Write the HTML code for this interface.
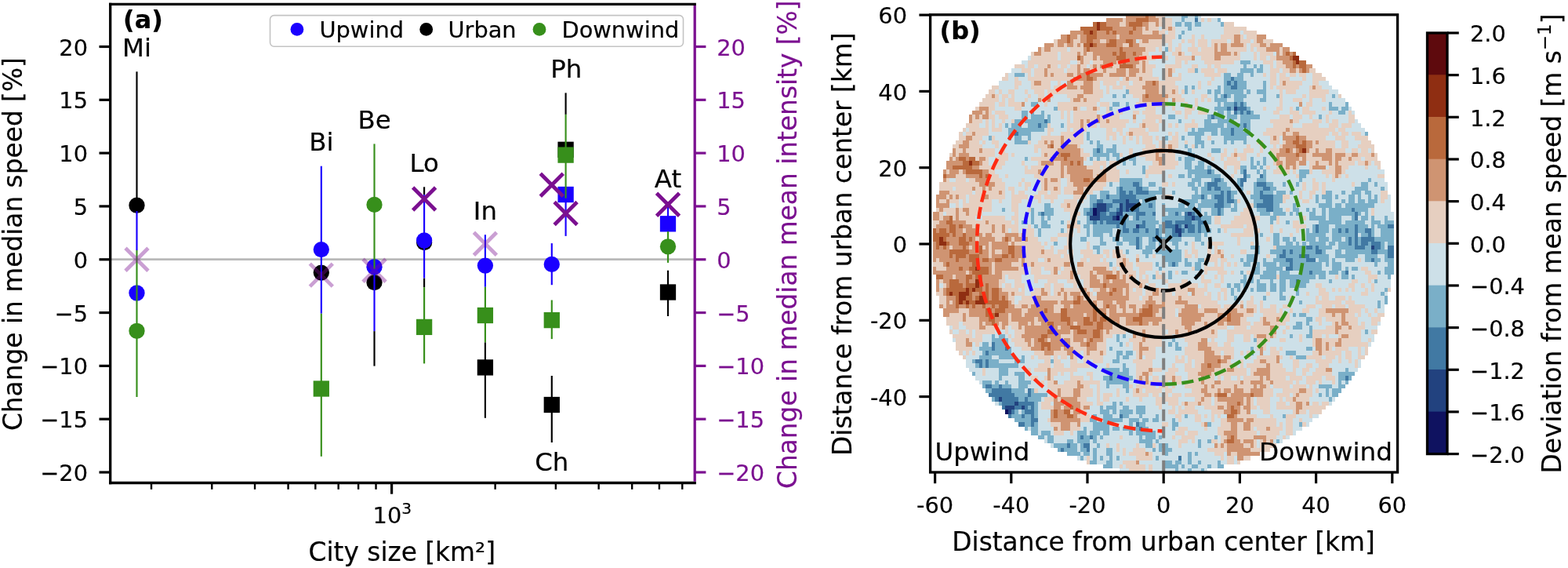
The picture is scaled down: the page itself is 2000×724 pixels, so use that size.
<!DOCTYPE html>
<html lang="en">
<head>
<meta charset="utf-8">
<title>Urban wind figure</title>
<style>
html,body{margin:0;padding:0;background:#fff;}
body{width:2000px;height:724px;overflow:hidden;}
svg{display:block;font-family:"DejaVu Sans", "Liberation Sans", sans-serif;}
text{stroke:currentColor;stroke-width:0.2px;paint-order:stroke fill;}
</style>
</head>
<body>
<svg width="2000" height="724" viewBox="0 0 2000 724">
<rect width="2000" height="724" fill="#fff"/>
<g id="panel-a">
<line x1="140.70" y1="330.60" x2="886.20" y2="330.60" stroke="#b9b9b9" stroke-width="2.8"/>
<line x1="174.50" y1="91.30" x2="174.50" y2="262.00" stroke="#000000" stroke-width="2.15"/>
<line x1="477.50" y1="422.10" x2="477.50" y2="466.60" stroke="#000000" stroke-width="2.15"/>
<line x1="541.10" y1="238.30" x2="541.10" y2="248.10" stroke="#000000" stroke-width="2.15"/>
<line x1="541.10" y1="354.50" x2="541.10" y2="366.10" stroke="#000000" stroke-width="2.15"/>
<line x1="618.90" y1="436.30" x2="618.90" y2="532.80" stroke="#000000" stroke-width="2.15"/>
<line x1="703.80" y1="479.00" x2="703.80" y2="564.00" stroke="#000000" stroke-width="2.15"/>
<line x1="721.60" y1="118.40" x2="721.60" y2="145.90" stroke="#000000" stroke-width="2.15"/>
<line x1="852.00" y1="344.70" x2="852.00" y2="403.00" stroke="#000000" stroke-width="2.15"/>
<circle cx="174.50" cy="261.70" r="10.15" fill="#000000"/>
<circle cx="409.80" cy="347.60" r="10.15" fill="#000000"/>
<circle cx="477.50" cy="360.10" r="10.15" fill="#000000"/>
<circle cx="541.10" cy="309.00" r="10.15" fill="#000000"/>
<rect x="608.75" y="458.25" width="20.3" height="20.3" fill="#000000"/>
<rect x="693.65" y="505.85" width="20.3" height="20.3" fill="#000000"/>
<rect x="711.45" y="180.65" width="20.3" height="20.3" fill="#000000"/>
<rect x="841.85" y="362.35" width="20.3" height="20.3" fill="#000000"/>
<line x1="174.50" y1="269.00" x2="174.50" y2="319.00" stroke="#1a00ff" stroke-width="2.15"/>
<line x1="409.80" y1="211.70" x2="409.80" y2="399.70" stroke="#1a00ff" stroke-width="2.15"/>
<line x1="477.50" y1="342.80" x2="477.50" y2="422.10" stroke="#1a00ff" stroke-width="2.15"/>
<line x1="541.10" y1="248.10" x2="541.10" y2="354.50" stroke="#1a00ff" stroke-width="2.15"/>
<line x1="618.90" y1="299.20" x2="618.90" y2="365.80" stroke="#1a00ff" stroke-width="2.15"/>
<line x1="703.80" y1="310.10" x2="703.80" y2="363.20" stroke="#1a00ff" stroke-width="2.15"/>
<line x1="721.60" y1="252.70" x2="721.60" y2="300.90" stroke="#1a00ff" stroke-width="2.15"/>
<line x1="852.00" y1="262.00" x2="852.00" y2="285.00" stroke="#1a00ff" stroke-width="2.15"/>
<circle cx="174.50" cy="373.50" r="10.15" fill="#1a00ff"/>
<circle cx="409.80" cy="318.10" r="10.15" fill="#1a00ff"/>
<circle cx="477.50" cy="340.20" r="10.15" fill="#1a00ff"/>
<circle cx="541.10" cy="306.50" r="10.15" fill="#1a00ff"/>
<circle cx="618.90" cy="338.60" r="10.15" fill="#1a00ff"/>
<circle cx="703.80" cy="336.90" r="10.15" fill="#1a00ff"/>
<rect x="711.45" y="237.85" width="20.3" height="20.3" fill="#1a00ff"/>
<rect x="841.85" y="275.15" width="20.3" height="20.3" fill="#1a00ff"/>
<line x1="174.50" y1="319.00" x2="174.50" y2="506.00" stroke="#378f1b" stroke-width="2.15"/>
<line x1="409.80" y1="399.70" x2="409.80" y2="581.80" stroke="#378f1b" stroke-width="2.15"/>
<line x1="477.50" y1="183.40" x2="477.50" y2="342.80" stroke="#378f1b" stroke-width="2.15"/>
<line x1="541.10" y1="366.10" x2="541.10" y2="463.40" stroke="#378f1b" stroke-width="2.15"/>
<line x1="618.90" y1="365.80" x2="618.90" y2="436.30" stroke="#378f1b" stroke-width="2.15"/>
<line x1="703.80" y1="382.50" x2="703.80" y2="432.10" stroke="#378f1b" stroke-width="2.15"/>
<line x1="721.60" y1="145.90" x2="721.60" y2="252.70" stroke="#378f1b" stroke-width="2.15"/>
<line x1="852.00" y1="295.00" x2="852.00" y2="334.90" stroke="#378f1b" stroke-width="2.15"/>
<circle cx="174.50" cy="421.80" r="10.15" fill="#378f1b"/>
<rect x="399.65" y="485.35" width="20.3" height="20.3" fill="#378f1b"/>
<circle cx="477.50" cy="260.90" r="10.15" fill="#378f1b"/>
<rect x="530.95" y="406.75" width="20.3" height="20.3" fill="#378f1b"/>
<rect x="608.75" y="391.85" width="20.3" height="20.3" fill="#378f1b"/>
<rect x="693.65" y="397.95" width="20.3" height="20.3" fill="#378f1b"/>
<rect x="711.45" y="187.45" width="20.3" height="20.3" fill="#378f1b"/>
<circle cx="852.00" cy="314.30" r="10.15" fill="#378f1b"/>
<path d="M160.00 316.30L189.00 345.30M160.00 345.30L189.00 316.30" stroke="#7b1090" stroke-width="4.8" fill="none" opacity="0.4"/>
<path d="M395.30 336.10L424.30 365.10M395.30 365.10L424.30 336.10" stroke="#7b1090" stroke-width="4.8" fill="none" opacity="0.4"/>
<path d="M463.00 330.20L492.00 359.20M463.00 359.20L492.00 330.20" stroke="#7b1090" stroke-width="4.8" fill="none" opacity="0.4"/>
<path d="M526.60 239.00L555.60 268.00M526.60 268.00L555.60 239.00" stroke="#7b1090" stroke-width="4.8" fill="none"/>
<path d="M604.40 296.30L633.40 325.30M604.40 325.30L633.40 296.30" stroke="#7b1090" stroke-width="4.8" fill="none" opacity="0.4"/>
<path d="M689.30 221.30L718.30 250.30M689.30 250.30L718.30 221.30" stroke="#7b1090" stroke-width="4.8" fill="none"/>
<path d="M707.10 257.50L736.10 286.50M707.10 286.50L736.10 257.50" stroke="#7b1090" stroke-width="4.8" fill="none"/>
<path d="M837.50 246.20L866.50 275.20M837.50 275.20L866.50 246.20" stroke="#7b1090" stroke-width="4.8" fill="none"/>
<text x="174.50" y="71.50" font-size="32.4" text-anchor="middle" fill="#000" color="#000">Mi</text>
<text x="409.80" y="192.00" font-size="32.4" text-anchor="middle" fill="#000" color="#000">Bi</text>
<text x="477.50" y="163.70" font-size="32.4" text-anchor="middle" fill="#000" color="#000">Be</text>
<text x="541.10" y="219.00" font-size="32.4" text-anchor="middle" fill="#000" color="#000">Lo</text>
<text x="618.90" y="279.50" font-size="32.4" text-anchor="middle" fill="#000" color="#000">In</text>
<text x="703.80" y="600.00" font-size="32.4" text-anchor="middle" fill="#000" color="#000">Ch</text>
<text x="722.20" y="99.00" font-size="32.4" text-anchor="middle" fill="#000" color="#000">Ph</text>
<text x="852.00" y="239.00" font-size="32.4" text-anchor="middle" fill="#000" color="#000">At</text>
<text x="157.00" y="35.50" font-size="32.0" text-anchor="start" fill="#000" color="#000" font-weight="bold">(a)</text>
<rect x="344.5" y="19.6" width="527" height="39.6" rx="5" ry="5" fill="#fff" fill-opacity="0.8" stroke="#c4c4c4" stroke-width="1.6"/>
<circle cx="378.90" cy="37.40" r="8.40" fill="#1a00ff"/>
<text x="407.50" y="48.30" font-size="28.8" text-anchor="start" fill="#000" color="#000">Upwind</text>
<circle cx="543.70" cy="37.40" r="8.40" fill="#000000"/>
<text x="571.50" y="48.30" font-size="28.8" text-anchor="start" fill="#000" color="#000">Urban</text>
<circle cx="688.00" cy="37.40" r="8.40" fill="#378f1b"/>
<text x="716.50" y="48.30" font-size="28.8" text-anchor="start" fill="#000" color="#000">Downwind</text>
<line x1="140.70" y1="3.75" x2="140.70" y2="617.15" stroke="#000" stroke-width="3.3"/>
<line x1="139.05" y1="5.40" x2="887.85" y2="5.40" stroke="#000" stroke-width="3.3"/>
<line x1="139.05" y1="615.50" x2="887.85" y2="615.50" stroke="#000" stroke-width="3.3"/>
<line x1="886.20" y1="7.05" x2="886.20" y2="613.85" stroke="#7b1090" stroke-width="3.3"/>
<line x1="126.50" y1="602.00" x2="140.70" y2="602.00" stroke="#000" stroke-width="3.2"/>
<text x="112.00" y="613.10" font-size="28.8" text-anchor="end" fill="#000" color="#000">−20</text>
<line x1="126.50" y1="534.19" x2="140.70" y2="534.19" stroke="#000" stroke-width="3.2"/>
<text x="112.00" y="545.29" font-size="28.8" text-anchor="end" fill="#000" color="#000">−15</text>
<line x1="126.50" y1="466.38" x2="140.70" y2="466.38" stroke="#000" stroke-width="3.2"/>
<text x="112.00" y="477.48" font-size="28.8" text-anchor="end" fill="#000" color="#000">−10</text>
<line x1="126.50" y1="398.56" x2="140.70" y2="398.56" stroke="#000" stroke-width="3.2"/>
<text x="112.00" y="409.66" font-size="28.8" text-anchor="end" fill="#000" color="#000">−5</text>
<line x1="126.50" y1="330.75" x2="140.70" y2="330.75" stroke="#000" stroke-width="3.2"/>
<text x="112.00" y="341.85" font-size="28.8" text-anchor="end" fill="#000" color="#000">0</text>
<line x1="126.50" y1="262.94" x2="140.70" y2="262.94" stroke="#000" stroke-width="3.2"/>
<text x="112.00" y="274.04" font-size="28.8" text-anchor="end" fill="#000" color="#000">5</text>
<line x1="126.50" y1="195.12" x2="140.70" y2="195.12" stroke="#000" stroke-width="3.2"/>
<text x="112.00" y="206.22" font-size="28.8" text-anchor="end" fill="#000" color="#000">10</text>
<line x1="126.50" y1="127.31" x2="140.70" y2="127.31" stroke="#000" stroke-width="3.2"/>
<text x="112.00" y="138.41" font-size="28.8" text-anchor="end" fill="#000" color="#000">15</text>
<line x1="126.50" y1="59.50" x2="140.70" y2="59.50" stroke="#000" stroke-width="3.2"/>
<text x="112.00" y="70.60" font-size="28.8" text-anchor="end" fill="#000" color="#000">20</text>
<line x1="886.20" y1="602.00" x2="900.40" y2="602.00" stroke="#7b1090" stroke-width="3.2"/>
<text x="914.20" y="613.00" font-size="28.8" text-anchor="start" fill="#7b1090" color="#7b1090">−20</text>
<line x1="886.20" y1="534.19" x2="900.40" y2="534.19" stroke="#7b1090" stroke-width="3.2"/>
<text x="914.20" y="545.19" font-size="28.8" text-anchor="start" fill="#7b1090" color="#7b1090">−15</text>
<line x1="886.20" y1="466.38" x2="900.40" y2="466.38" stroke="#7b1090" stroke-width="3.2"/>
<text x="914.20" y="477.38" font-size="28.8" text-anchor="start" fill="#7b1090" color="#7b1090">−10</text>
<line x1="886.20" y1="398.56" x2="900.40" y2="398.56" stroke="#7b1090" stroke-width="3.2"/>
<text x="914.20" y="409.56" font-size="28.8" text-anchor="start" fill="#7b1090" color="#7b1090">−5</text>
<line x1="886.20" y1="330.75" x2="900.40" y2="330.75" stroke="#7b1090" stroke-width="3.2"/>
<text x="914.20" y="341.75" font-size="28.8" text-anchor="start" fill="#7b1090" color="#7b1090">0</text>
<line x1="886.20" y1="262.94" x2="900.40" y2="262.94" stroke="#7b1090" stroke-width="3.2"/>
<text x="914.20" y="273.94" font-size="28.8" text-anchor="start" fill="#7b1090" color="#7b1090">5</text>
<line x1="886.20" y1="195.12" x2="900.40" y2="195.12" stroke="#7b1090" stroke-width="3.2"/>
<text x="914.20" y="206.12" font-size="28.8" text-anchor="start" fill="#7b1090" color="#7b1090">10</text>
<line x1="886.20" y1="127.31" x2="900.40" y2="127.31" stroke="#7b1090" stroke-width="3.2"/>
<text x="914.20" y="138.31" font-size="28.8" text-anchor="start" fill="#7b1090" color="#7b1090">15</text>
<line x1="886.20" y1="59.50" x2="900.40" y2="59.50" stroke="#7b1090" stroke-width="3.2"/>
<text x="914.20" y="70.50" font-size="28.8" text-anchor="start" fill="#7b1090" color="#7b1090">20</text>
<line x1="193.03" y1="615.50" x2="193.03" y2="623.80" stroke="#000" stroke-width="2.4"/>
<line x1="270.27" y1="615.50" x2="270.27" y2="623.80" stroke="#000" stroke-width="2.4"/>
<line x1="325.06" y1="615.50" x2="325.06" y2="623.80" stroke="#000" stroke-width="2.4"/>
<line x1="367.57" y1="615.50" x2="367.57" y2="623.80" stroke="#000" stroke-width="2.4"/>
<line x1="402.30" y1="615.50" x2="402.30" y2="623.80" stroke="#000" stroke-width="2.4"/>
<line x1="431.66" y1="615.50" x2="431.66" y2="623.80" stroke="#000" stroke-width="2.4"/>
<line x1="457.10" y1="615.50" x2="457.10" y2="623.80" stroke="#000" stroke-width="2.4"/>
<line x1="479.53" y1="615.50" x2="479.53" y2="623.80" stroke="#000" stroke-width="2.4"/>
<line x1="631.63" y1="615.50" x2="631.63" y2="623.80" stroke="#000" stroke-width="2.4"/>
<line x1="708.87" y1="615.50" x2="708.87" y2="623.80" stroke="#000" stroke-width="2.4"/>
<line x1="763.66" y1="615.50" x2="763.66" y2="623.80" stroke="#000" stroke-width="2.4"/>
<line x1="806.17" y1="615.50" x2="806.17" y2="623.80" stroke="#000" stroke-width="2.4"/>
<line x1="840.90" y1="615.50" x2="840.90" y2="623.80" stroke="#000" stroke-width="2.4"/>
<line x1="870.26" y1="615.50" x2="870.26" y2="623.80" stroke="#000" stroke-width="2.4"/>
<line x1="499.60" y1="615.50" x2="499.60" y2="629.70" stroke="#000" stroke-width="3.2"/>
<text x="475.6" y="667.0" font-size="28.8" fill="#000">10<tspan dy="-11.7" font-size="20.16">3</tspan></text>
<text x="512.80" y="715.00" font-size="32.8" text-anchor="middle" fill="#000" color="#000">City size [km²]</text>
<text x="27.70" y="311.10" font-size="32.8" text-anchor="middle" fill="#000" color="#000" transform="rotate(-90 27.70 311.10)">Change in median speed [%]</text>
<text x="1016.30" y="311.70" font-size="32.8" text-anchor="middle" fill="#7b1090" color="#7b1090" transform="rotate(-90 1016.30 311.70)">Change in median mean intensity [%]</text>
</g>
<g id="panel-b">
<clipPath id="clipb"><rect x="1186.6" y="18.8" width="596.0" height="583.2"/></clipPath>
<g clip-path="url(#clipb)">
<g transform="translate(1181.79 12.16) scale(4.17 5.37)" shape-rendering="crispEdges" stroke="none">
<path fill="#0f1260" d="M51 47h1v1h-1zM51 48h1v1h-1zM58 49h1v1h-1zM24 95h1v1h-1z"/>
<path fill="#22427f" d="M94 23h1v1h-1zM61 45h1v1h-1zM52 46h3v1h-3zM59 46h1v1h-1zM61 46h3v1h-3zM52 47h3v1h-3zM59 47h1v1h-1zM61 47h1v1h-1zM52 48h1v1h-1zM58 48h2v1h-2zM80 48h1v1h-1zM50 49h3v1h-3zM57 49h1v1h-1zM81 49h1v1h-1zM64 51h1v1h-1zM76 51h1v1h-1zM79 51h1v1h-1zM76 52h2v1h-2zM77 53h1v1h-1zM136 56h1v1h-1zM22 92h1v1h-1zM27 93h1v1h-1zM24 94h3v1h-3zM29 94h1v1h-1zM25 95h1v1h-1z"/>
<path fill="#4179a3" d="M82 2h1v1h-1zM93 16h1v1h-1zM92 17h1v1h-1zM94 17h1v1h-1zM93 18h2v1h-2zM91 20h1v1h-1zM94 22h1v1h-1zM96 22h1v1h-1zM92 23h1v1h-1zM95 23h3v1h-3zM94 24h1v1h-1zM96 24h1v1h-1zM98 24h1v1h-1zM87 25h1v1h-1zM36 26h1v1h-1zM34 27h1v1h-1zM97 27h1v1h-1zM93 28h1v1h-1zM27 29h1v1h-1zM93 29h1v1h-1zM52 33h1v1h-1zM86 38h1v1h-1zM97 38h1v1h-1zM97 39h1v1h-1zM102 39h1v1h-1zM88 40h2v1h-2zM96 40h2v1h-2zM63 41h2v1h-2zM86 41h3v1h-3zM96 41h1v1h-1zM101 41h3v1h-3zM59 42h1v1h-1zM64 42h2v1h-2zM86 42h1v1h-1zM88 42h2v1h-2zM103 42h2v1h-2zM59 43h2v1h-2zM62 43h1v1h-1zM64 43h4v1h-4zM90 43h1v1h-1zM92 43h1v1h-1zM102 43h1v1h-1zM55 44h1v1h-1zM59 44h5v1h-5zM84 44h1v1h-1zM88 44h3v1h-3zM92 44h1v1h-1zM102 44h4v1h-4zM52 45h2v1h-2zM57 45h4v1h-4zM62 45h3v1h-3zM89 45h2v1h-2zM92 45h2v1h-2zM103 45h3v1h-3zM51 46h1v1h-1zM55 46h2v1h-2zM60 46h1v1h-1zM64 46h1v1h-1zM68 46h1v1h-1zM88 46h3v1h-3zM101 46h5v1h-5zM50 47h1v1h-1zM55 47h1v1h-1zM58 47h1v1h-1zM60 47h1v1h-1zM62 47h3v1h-3zM82 47h1v1h-1zM89 47h1v1h-1zM104 47h2v1h-2zM130 47h1v1h-1zM35 48h1v1h-1zM49 48h2v1h-2zM53 48h2v1h-2zM56 48h2v1h-2zM64 48h3v1h-3zM69 48h1v1h-1zM76 48h1v1h-1zM79 48h1v1h-1zM81 48h1v1h-1zM89 48h1v1h-1zM131 48h1v1h-1zM53 49h4v1h-4zM59 49h2v1h-2zM64 49h1v1h-1zM79 49h2v1h-2zM82 49h2v1h-2zM131 49h1v1h-1zM51 50h1v1h-1zM53 50h1v1h-1zM55 50h6v1h-6zM66 50h1v1h-1zM73 50h2v1h-2zM76 50h5v1h-5zM83 50h2v1h-2zM58 51h1v1h-1zM60 51h1v1h-1zM65 51h2v1h-2zM73 51h3v1h-3zM77 51h1v1h-1zM80 51h2v1h-2zM83 51h1v1h-1zM119 51h1v1h-1zM131 51h1v1h-1zM141 51h2v1h-2zM60 52h2v1h-2zM63 52h2v1h-2zM67 52h1v1h-1zM70 52h1v1h-1zM75 52h1v1h-1zM78 52h1v1h-1zM80 52h2v1h-2zM83 52h1v1h-1zM119 52h1v1h-1zM126 52h1v1h-1zM128 52h1v1h-1zM131 52h1v1h-1zM134 52h2v1h-2zM70 53h1v1h-1zM75 53h2v1h-2zM131 53h1v1h-1zM135 53h1v1h-1zM64 54h1v1h-1zM69 54h1v1h-1zM71 54h1v1h-1zM129 54h1v1h-1zM131 54h1v1h-1zM133 54h4v1h-4zM64 55h1v1h-1zM129 55h1v1h-1zM131 55h1v1h-1zM133 55h2v1h-2zM136 55h3v1h-3zM64 56h1v1h-1zM116 56h2v1h-2zM119 56h1v1h-1zM131 56h3v1h-3zM137 56h2v1h-2zM141 56h2v1h-2zM109 57h1v1h-1zM111 57h1v1h-1zM119 57h2v1h-2zM136 57h2v1h-2zM141 57h2v1h-2zM108 58h2v1h-2zM114 58h3v1h-3zM141 58h2v1h-2zM110 59h2v1h-2zM116 59h3v1h-3zM136 59h1v1h-1zM75 60h1v1h-1zM111 60h1v1h-1zM110 61h2v1h-2zM117 62h1v1h-1zM128 62h1v1h-1zM113 64h1v1h-1zM20 79h1v1h-1zM20 80h1v1h-1zM24 80h1v1h-1zM18 81h1v1h-1zM15 83h2v1h-2zM18 83h1v1h-1zM16 84h1v1h-1zM18 84h1v1h-1zM56 87h1v1h-1zM128 87h1v1h-1zM18 89h2v1h-2zM22 89h1v1h-1zM20 90h6v1h-6zM31 90h1v1h-1zM19 91h8v1h-8zM31 91h1v1h-1zM21 92h1v1h-1zM23 92h5v1h-5zM30 92h1v1h-1zM23 93h4v1h-4zM28 93h5v1h-5zM23 94h1v1h-1zM27 94h2v1h-2zM30 94h1v1h-1zM32 94h1v1h-1zM26 95h1v1h-1zM30 95h3v1h-3zM25 96h1v1h-1zM29 96h1v1h-1zM32 96h1v1h-1zM59 96h1v1h-1zM32 97h2v1h-2zM28 98h2v1h-2zM32 98h1v1h-1zM64 98h1v1h-1zM65 99h1v1h-1zM47 101h1v1h-1zM50 101h1v1h-1zM43 103h1v1h-1zM48 103h2v1h-2zM41 104h1v1h-1zM49 104h1v1h-1zM77 106h1v1h-1z"/>
<path fill="#7aafc8" d="M78 1h2v1h-2zM82 1h1v1h-1zM78 2h1v1h-1zM89 2h1v1h-1zM76 3h2v1h-2zM79 3h2v1h-2zM82 3h2v1h-2zM90 3h1v1h-1zM80 4h1v1h-1zM78 5h1v1h-1zM77 6h1v1h-1zM73 9h1v1h-1zM96 12h3v1h-3zM97 13h1v1h-1zM100 13h1v1h-1zM102 13h1v1h-1zM82 14h1v1h-1zM96 14h4v1h-4zM101 14h2v1h-2zM27 15h3v1h-3zM91 15h2v1h-2zM95 15h2v1h-2zM99 15h1v1h-1zM91 16h2v1h-2zM94 16h3v1h-3zM91 17h1v1h-1zM93 17h1v1h-1zM95 17h3v1h-3zM103 17h1v1h-1zM79 18h1v1h-1zM81 18h1v1h-1zM89 18h1v1h-1zM91 18h2v1h-2zM95 18h3v1h-3zM103 18h1v1h-1zM61 19h1v1h-1zM79 19h1v1h-1zM86 19h1v1h-1zM88 19h2v1h-2zM91 19h6v1h-6zM98 19h1v1h-1zM101 19h3v1h-3zM57 20h1v1h-1zM60 20h1v1h-1zM88 20h1v1h-1zM90 20h1v1h-1zM92 20h1v1h-1zM94 20h4v1h-4zM103 20h1v1h-1zM107 20h1v1h-1zM124 20h1v1h-1zM88 21h4v1h-4zM94 21h3v1h-3zM102 21h2v1h-2zM32 22h2v1h-2zM57 22h2v1h-2zM61 22h1v1h-1zM89 22h1v1h-1zM91 22h3v1h-3zM95 22h1v1h-1zM97 22h1v1h-1zM123 22h1v1h-1zM128 22h1v1h-1zM39 23h1v1h-1zM56 23h1v1h-1zM88 23h4v1h-4zM93 23h1v1h-1zM98 23h1v1h-1zM113 23h1v1h-1zM123 23h3v1h-3zM127 23h2v1h-2zM29 24h2v1h-2zM32 24h1v1h-1zM35 24h1v1h-1zM89 24h2v1h-2zM92 24h1v1h-1zM95 24h1v1h-1zM97 24h1v1h-1zM99 24h1v1h-1zM126 24h2v1h-2zM29 25h2v1h-2zM32 25h4v1h-4zM37 25h1v1h-1zM74 25h2v1h-2zM86 25h1v1h-1zM88 25h3v1h-3zM92 25h3v1h-3zM96 25h6v1h-6zM120 25h1v1h-1zM27 26h2v1h-2zM30 26h6v1h-6zM37 26h1v1h-1zM77 26h1v1h-1zM85 26h2v1h-2zM89 26h5v1h-5zM96 26h3v1h-3zM24 27h1v1h-1zM26 27h3v1h-3zM31 27h3v1h-3zM35 27h2v1h-2zM41 27h1v1h-1zM85 27h6v1h-6zM92 27h5v1h-5zM98 27h1v1h-1zM25 28h11v1h-11zM81 28h1v1h-1zM83 28h6v1h-6zM90 28h3v1h-3zM94 28h3v1h-3zM98 28h1v1h-1zM25 29h2v1h-2zM28 29h4v1h-4zM49 29h1v1h-1zM80 29h5v1h-5zM87 29h2v1h-2zM90 29h3v1h-3zM94 29h5v1h-5zM134 29h1v1h-1zM19 30h1v1h-1zM25 30h1v1h-1zM27 30h2v1h-2zM31 30h1v1h-1zM49 30h1v1h-1zM73 30h1v1h-1zM78 30h1v1h-1zM82 30h2v1h-2zM91 30h7v1h-7zM27 31h4v1h-4zM50 31h1v1h-1zM52 31h1v1h-1zM82 31h3v1h-3zM87 31h1v1h-1zM91 31h1v1h-1zM93 31h1v1h-1zM97 31h1v1h-1zM52 32h2v1h-2zM57 32h1v1h-1zM79 32h1v1h-1zM82 32h1v1h-1zM84 32h1v1h-1zM51 33h1v1h-1zM53 33h1v1h-1zM55 33h3v1h-3zM80 33h1v1h-1zM87 33h3v1h-3zM51 34h5v1h-5zM57 34h2v1h-2zM63 34h1v1h-1zM80 34h2v1h-2zM30 35h1v1h-1zM50 35h1v1h-1zM52 35h1v1h-1zM55 35h1v1h-1zM58 35h1v1h-1zM60 35h1v1h-1zM62 35h2v1h-2zM77 35h1v1h-1zM79 35h3v1h-3zM99 35h1v1h-1zM103 35h1v1h-1zM60 36h1v1h-1zM63 36h1v1h-1zM79 36h2v1h-2zM83 36h2v1h-2zM99 36h1v1h-1zM101 36h1v1h-1zM103 36h1v1h-1zM66 37h1v1h-1zM79 37h2v1h-2zM82 37h3v1h-3zM86 37h1v1h-1zM96 37h2v1h-2zM99 37h2v1h-2zM102 37h1v1h-1zM66 38h1v1h-1zM80 38h6v1h-6zM87 38h1v1h-1zM96 38h1v1h-1zM101 38h1v1h-1zM103 38h1v1h-1zM114 38h3v1h-3zM77 39h2v1h-2zM80 39h1v1h-1zM82 39h8v1h-8zM98 39h1v1h-1zM103 39h1v1h-1zM114 39h2v1h-2zM59 40h7v1h-7zM81 40h3v1h-3zM87 40h1v1h-1zM90 40h1v1h-1zM95 40h1v1h-1zM101 40h3v1h-3zM114 40h1v1h-1zM135 40h1v1h-1zM56 41h1v1h-1zM59 41h4v1h-4zM65 41h1v1h-1zM68 41h2v1h-2zM80 41h2v1h-2zM83 41h1v1h-1zM85 41h1v1h-1zM89 41h3v1h-3zM95 41h1v1h-1zM100 41h1v1h-1zM104 41h2v1h-2zM109 41h1v1h-1zM113 41h1v1h-1zM133 41h2v1h-2zM137 41h1v1h-1zM58 42h1v1h-1zM60 42h4v1h-4zM66 42h2v1h-2zM71 42h1v1h-1zM81 42h2v1h-2zM84 42h2v1h-2zM87 42h1v1h-1zM90 42h3v1h-3zM96 42h1v1h-1zM100 42h3v1h-3zM105 42h2v1h-2zM131 42h4v1h-4zM139 42h1v1h-1zM53 43h3v1h-3zM58 43h1v1h-1zM61 43h1v1h-1zM63 43h1v1h-1zM68 43h5v1h-5zM75 43h1v1h-1zM82 43h1v1h-1zM84 43h6v1h-6zM91 43h1v1h-1zM93 43h2v1h-2zM100 43h2v1h-2zM103 43h3v1h-3zM107 43h3v1h-3zM111 43h1v1h-1zM122 43h2v1h-2zM127 43h1v1h-1zM130 43h3v1h-3zM134 43h2v1h-2zM50 44h2v1h-2zM53 44h2v1h-2zM56 44h3v1h-3zM64 44h6v1h-6zM81 44h3v1h-3zM85 44h1v1h-1zM87 44h1v1h-1zM91 44h1v1h-1zM93 44h1v1h-1zM99 44h3v1h-3zM106 44h3v1h-3zM119 44h1v1h-1zM121 44h3v1h-3zM125 44h1v1h-1zM129 44h2v1h-2zM132 44h1v1h-1zM135 44h1v1h-1zM137 44h1v1h-1zM50 45h2v1h-2zM54 45h3v1h-3zM66 45h4v1h-4zM78 45h5v1h-5zM84 45h5v1h-5zM91 45h1v1h-1zM94 45h1v1h-1zM100 45h3v1h-3zM106 45h3v1h-3zM119 45h1v1h-1zM122 45h2v1h-2zM127 45h1v1h-1zM129 45h2v1h-2zM132 45h2v1h-2zM135 45h3v1h-3zM36 46h2v1h-2zM50 46h1v1h-1zM57 46h2v1h-2zM65 46h3v1h-3zM69 46h1v1h-1zM72 46h1v1h-1zM77 46h2v1h-2zM80 46h2v1h-2zM83 46h5v1h-5zM91 46h2v1h-2zM94 46h1v1h-1zM100 46h1v1h-1zM106 46h2v1h-2zM112 46h1v1h-1zM120 46h4v1h-4zM125 46h2v1h-2zM128 46h9v1h-9zM23 47h1v1h-1zM32 47h1v1h-1zM36 47h3v1h-3zM48 47h2v1h-2zM56 47h2v1h-2zM65 47h5v1h-5zM72 47h10v1h-10zM83 47h1v1h-1zM87 47h2v1h-2zM90 47h1v1h-1zM93 47h2v1h-2zM101 47h3v1h-3zM106 47h3v1h-3zM112 47h2v1h-2zM116 47h1v1h-1zM118 47h1v1h-1zM121 47h1v1h-1zM123 47h7v1h-7zM131 47h4v1h-4zM32 48h1v1h-1zM34 48h1v1h-1zM36 48h3v1h-3zM48 48h1v1h-1zM55 48h1v1h-1zM60 48h4v1h-4zM67 48h2v1h-2zM72 48h1v1h-1zM74 48h2v1h-2zM77 48h1v1h-1zM82 48h2v1h-2zM85 48h1v1h-1zM87 48h2v1h-2zM90 48h1v1h-1zM102 48h3v1h-3zM106 48h4v1h-4zM111 48h1v1h-1zM113 48h1v1h-1zM117 48h2v1h-2zM121 48h1v1h-1zM123 48h8v1h-8zM132 48h1v1h-1zM134 48h1v1h-1zM32 49h1v1h-1zM35 49h1v1h-1zM37 49h1v1h-1zM49 49h1v1h-1zM61 49h1v1h-1zM63 49h1v1h-1zM65 49h5v1h-5zM72 49h7v1h-7zM84 49h3v1h-3zM105 49h2v1h-2zM117 49h5v1h-5zM123 49h4v1h-4zM130 49h1v1h-1zM133 49h2v1h-2zM136 49h1v1h-1zM140 49h1v1h-1zM29 50h2v1h-2zM32 50h1v1h-1zM35 50h2v1h-2zM41 50h1v1h-1zM46 50h1v1h-1zM49 50h2v1h-2zM52 50h1v1h-1zM54 50h1v1h-1zM61 50h5v1h-5zM67 50h4v1h-4zM72 50h1v1h-1zM75 50h1v1h-1zM81 50h2v1h-2zM85 50h2v1h-2zM105 50h1v1h-1zM110 50h1v1h-1zM120 50h7v1h-7zM128 50h6v1h-6zM136 50h3v1h-3zM140 50h3v1h-3zM33 51h1v1h-1zM35 51h3v1h-3zM48 51h2v1h-2zM51 51h7v1h-7zM59 51h1v1h-1zM61 51h3v1h-3zM67 51h3v1h-3zM71 51h1v1h-1zM78 51h1v1h-1zM82 51h1v1h-1zM84 51h2v1h-2zM118 51h1v1h-1zM120 51h3v1h-3zM125 51h6v1h-6zM132 51h3v1h-3zM136 51h1v1h-1zM138 51h3v1h-3zM34 52h1v1h-1zM41 52h1v1h-1zM49 52h1v1h-1zM51 52h6v1h-6zM59 52h1v1h-1zM62 52h1v1h-1zM65 52h2v1h-2zM68 52h2v1h-2zM71 52h4v1h-4zM79 52h1v1h-1zM82 52h1v1h-1zM84 52h3v1h-3zM89 52h1v1h-1zM116 52h1v1h-1zM118 52h1v1h-1zM120 52h3v1h-3zM124 52h2v1h-2zM127 52h1v1h-1zM129 52h2v1h-2zM132 52h2v1h-2zM136 52h1v1h-1zM139 52h4v1h-4zM34 53h1v1h-1zM49 53h1v1h-1zM51 53h3v1h-3zM56 53h1v1h-1zM58 53h12v1h-12zM71 53h1v1h-1zM73 53h2v1h-2zM78 53h6v1h-6zM85 53h1v1h-1zM102 53h1v1h-1zM106 53h2v1h-2zM116 53h6v1h-6zM124 53h7v1h-7zM133 53h2v1h-2zM136 53h1v1h-1zM139 53h4v1h-4zM47 54h2v1h-2zM53 54h1v1h-1zM57 54h2v1h-2zM60 54h4v1h-4zM65 54h1v1h-1zM68 54h1v1h-1zM70 54h1v1h-1zM72 54h6v1h-6zM82 54h2v1h-2zM106 54h2v1h-2zM109 54h2v1h-2zM112 54h1v1h-1zM116 54h3v1h-3zM120 54h3v1h-3zM124 54h3v1h-3zM128 54h1v1h-1zM130 54h1v1h-1zM132 54h1v1h-1zM137 54h6v1h-6zM39 55h1v1h-1zM53 55h2v1h-2zM58 55h2v1h-2zM62 55h2v1h-2zM65 55h1v1h-1zM68 55h2v1h-2zM71 55h2v1h-2zM75 55h2v1h-2zM79 55h1v1h-1zM84 55h1v1h-1zM106 55h2v1h-2zM110 55h2v1h-2zM113 55h1v1h-1zM115 55h1v1h-1zM117 55h5v1h-5zM123 55h2v1h-2zM126 55h3v1h-3zM130 55h1v1h-1zM132 55h1v1h-1zM135 55h1v1h-1zM139 55h1v1h-1zM141 55h2v1h-2zM51 56h2v1h-2zM65 56h1v1h-1zM67 56h3v1h-3zM71 56h1v1h-1zM76 56h1v1h-1zM99 56h3v1h-3zM107 56h9v1h-9zM118 56h1v1h-1zM120 56h4v1h-4zM126 56h5v1h-5zM134 56h2v1h-2zM139 56h1v1h-1zM52 57h1v1h-1zM61 57h1v1h-1zM66 57h3v1h-3zM70 57h8v1h-8zM101 57h1v1h-1zM105 57h4v1h-4zM110 57h1v1h-1zM112 57h7v1h-7zM121 57h1v1h-1zM125 57h2v1h-2zM128 57h8v1h-8zM138 57h3v1h-3zM67 58h1v1h-1zM72 58h6v1h-6zM98 58h3v1h-3zM107 58h1v1h-1zM110 58h4v1h-4zM117 58h6v1h-6zM125 58h7v1h-7zM134 58h4v1h-4zM140 58h1v1h-1zM73 59h5v1h-5zM79 59h1v1h-1zM83 59h2v1h-2zM96 59h1v1h-1zM98 59h3v1h-3zM103 59h1v1h-1zM106 59h4v1h-4zM112 59h4v1h-4zM120 59h3v1h-3zM124 59h1v1h-1zM128 59h3v1h-3zM134 59h2v1h-2zM137 59h2v1h-2zM140 59h3v1h-3zM56 60h1v1h-1zM70 60h1v1h-1zM74 60h1v1h-1zM76 60h1v1h-1zM79 60h2v1h-2zM82 60h2v1h-2zM97 60h2v1h-2zM101 60h1v1h-1zM103 60h4v1h-4zM108 60h3v1h-3zM112 60h9v1h-9zM122 60h1v1h-1zM124 60h3v1h-3zM137 60h1v1h-1zM141 60h2v1h-2zM71 61h1v1h-1zM82 61h2v1h-2zM100 61h2v1h-2zM104 61h5v1h-5zM112 61h9v1h-9zM124 61h3v1h-3zM128 61h1v1h-1zM130 61h2v1h-2zM140 61h3v1h-3zM74 62h1v1h-1zM78 62h2v1h-2zM96 62h1v1h-1zM100 62h2v1h-2zM103 62h4v1h-4zM108 62h3v1h-3zM114 62h3v1h-3zM118 62h4v1h-4zM123 62h3v1h-3zM127 62h1v1h-1zM138 62h1v1h-1zM140 62h3v1h-3zM69 63h1v1h-1zM74 63h1v1h-1zM82 63h1v1h-1zM97 63h1v1h-1zM99 63h1v1h-1zM102 63h5v1h-5zM108 63h11v1h-11zM120 63h2v1h-2zM127 63h2v1h-2zM130 63h1v1h-1zM141 63h1v1h-1zM96 64h2v1h-2zM99 64h1v1h-1zM101 64h1v1h-1zM105 64h1v1h-1zM108 64h2v1h-2zM111 64h2v1h-2zM114 64h3v1h-3zM123 64h1v1h-1zM137 64h1v1h-1zM92 65h1v1h-1zM94 65h2v1h-2zM97 65h1v1h-1zM101 65h3v1h-3zM105 65h2v1h-2zM108 65h2v1h-2zM111 65h5v1h-5zM93 66h1v1h-1zM95 66h1v1h-1zM97 66h1v1h-1zM99 66h1v1h-1zM101 66h3v1h-3zM105 66h2v1h-2zM108 66h2v1h-2zM113 66h1v1h-1zM140 66h1v1h-1zM93 67h1v1h-1zM108 67h1v1h-1zM113 67h1v1h-1zM139 67h1v1h-1zM94 68h1v1h-1zM103 68h1v1h-1zM108 68h2v1h-2zM140 68h1v1h-1zM114 69h1v1h-1zM138 69h1v1h-1zM140 69h1v1h-1zM138 70h1v1h-1zM112 72h1v1h-1zM114 72h2v1h-2zM116 73h2v1h-2zM113 74h2v1h-2zM116 74h1v1h-1zM112 75h3v1h-3zM117 75h1v1h-1zM117 76h1v1h-1zM134 76h1v1h-1zM20 77h1v1h-1zM22 77h2v1h-2zM58 77h1v1h-1zM60 77h1v1h-1zM111 77h1v1h-1zM116 77h2v1h-2zM20 78h5v1h-5zM58 78h1v1h-1zM75 78h1v1h-1zM100 78h1v1h-1zM17 79h2v1h-2zM21 79h4v1h-4zM59 79h1v1h-1zM74 79h1v1h-1zM76 79h1v1h-1zM16 80h4v1h-4zM21 80h3v1h-3zM25 80h1v1h-1zM56 80h1v1h-1zM76 80h2v1h-2zM99 80h1v1h-1zM116 80h2v1h-2zM17 81h1v1h-1zM19 81h7v1h-7zM58 81h2v1h-2zM61 81h2v1h-2zM99 81h1v1h-1zM110 81h3v1h-3zM16 82h4v1h-4zM22 82h5v1h-5zM29 82h1v1h-1zM58 82h1v1h-1zM60 82h2v1h-2zM113 82h3v1h-3zM14 83h1v1h-1zM17 83h1v1h-1zM19 83h3v1h-3zM27 83h3v1h-3zM38 83h1v1h-1zM57 83h2v1h-2zM15 84h1v1h-1zM17 84h1v1h-1zM19 84h9v1h-9zM60 84h1v1h-1zM22 85h3v1h-3zM54 85h5v1h-5zM60 85h2v1h-2zM128 85h1v1h-1zM14 86h1v1h-1zM22 86h3v1h-3zM27 86h3v1h-3zM56 86h6v1h-6zM126 86h5v1h-5zM22 87h1v1h-1zM28 87h2v1h-2zM54 87h2v1h-2zM57 87h6v1h-6zM126 87h2v1h-2zM129 87h1v1h-1zM17 88h3v1h-3zM21 88h1v1h-1zM24 88h1v1h-1zM28 88h4v1h-4zM55 88h7v1h-7zM126 88h1v1h-1zM128 88h1v1h-1zM17 89h1v1h-1zM20 89h2v1h-2zM23 89h3v1h-3zM28 89h3v1h-3zM55 89h1v1h-1zM60 89h2v1h-2zM120 89h4v1h-4zM126 89h2v1h-2zM18 90h2v1h-2zM26 90h4v1h-4zM32 90h1v1h-1zM61 90h1v1h-1zM122 90h1v1h-1zM124 90h3v1h-3zM27 91h4v1h-4zM32 91h5v1h-5zM120 91h1v1h-1zM122 91h1v1h-1zM124 91h2v1h-2zM20 92h1v1h-1zM28 92h2v1h-2zM31 92h4v1h-4zM123 92h1v1h-1zM22 93h1v1h-1zM33 93h1v1h-1zM57 93h1v1h-1zM59 93h1v1h-1zM31 94h1v1h-1zM33 94h1v1h-1zM53 94h1v1h-1zM55 94h3v1h-3zM60 94h2v1h-2zM64 94h3v1h-3zM27 95h1v1h-1zM29 95h1v1h-1zM33 95h1v1h-1zM53 95h3v1h-3zM57 95h1v1h-1zM59 95h4v1h-4zM64 95h3v1h-3zM26 96h3v1h-3zM30 96h2v1h-2zM33 96h1v1h-1zM51 96h1v1h-1zM54 96h3v1h-3zM60 96h2v1h-2zM65 96h1v1h-1zM70 96h1v1h-1zM79 96h1v1h-1zM109 96h1v1h-1zM27 97h5v1h-5zM50 97h2v1h-2zM54 97h6v1h-6zM62 97h3v1h-3zM66 97h2v1h-2zM69 97h2v1h-2zM75 97h1v1h-1zM30 98h2v1h-2zM33 98h1v1h-1zM51 98h5v1h-5zM62 98h1v1h-1zM65 98h2v1h-2zM75 98h2v1h-2zM86 98h1v1h-1zM114 98h1v1h-1zM30 99h1v1h-1zM32 99h2v1h-2zM48 99h1v1h-1zM51 99h5v1h-5zM57 99h2v1h-2zM60 99h5v1h-5zM66 99h2v1h-2zM75 99h1v1h-1zM32 100h2v1h-2zM35 100h3v1h-3zM46 100h3v1h-3zM50 100h3v1h-3zM54 100h2v1h-2zM62 100h1v1h-1zM64 100h6v1h-6zM34 101h2v1h-2zM37 101h2v1h-2zM46 101h1v1h-1zM48 101h2v1h-2zM51 101h1v1h-1zM53 101h1v1h-1zM65 101h1v1h-1zM67 101h3v1h-3zM71 101h1v1h-1zM88 101h1v1h-1zM37 102h2v1h-2zM43 102h2v1h-2zM46 102h4v1h-4zM51 102h1v1h-1zM65 102h4v1h-4zM70 102h1v1h-1zM83 102h1v1h-1zM86 102h1v1h-1zM107 102h1v1h-1zM39 103h4v1h-4zM44 103h2v1h-2zM47 103h1v1h-1zM52 103h1v1h-1zM67 103h2v1h-2zM71 103h3v1h-3zM83 103h1v1h-1zM40 104h1v1h-1zM42 104h4v1h-4zM47 104h2v1h-2zM51 104h1v1h-1zM55 104h2v1h-2zM69 104h1v1h-1zM71 104h1v1h-1zM73 104h2v1h-2zM43 105h4v1h-4zM48 105h2v1h-2zM51 105h1v1h-1zM55 105h2v1h-2zM73 105h1v1h-1zM80 105h1v1h-1zM82 105h1v1h-1zM47 106h1v1h-1zM51 106h1v1h-1zM53 106h1v1h-1zM56 106h1v1h-1zM58 106h1v1h-1zM70 106h1v1h-1zM80 106h1v1h-1zM50 107h2v1h-2zM55 107h2v1h-2zM73 107h2v1h-2zM76 107h2v1h-2zM80 107h1v1h-1zM83 107h1v1h-1zM89 107h1v1h-1zM54 108h3v1h-3zM73 108h4v1h-4zM78 108h1v1h-1zM81 108h2v1h-2zM86 108h1v1h-1zM89 108h2v1h-2zM76 109h1v1h-1zM80 109h1v1h-1zM84 109h1v1h-1zM73 110h1v1h-1z"/>
<path fill="#cde0e8" d="M73 1h5v1h-5zM80 1h2v1h-2zM83 1h1v1h-1zM75 2h3v1h-3zM79 2h3v1h-3zM83 2h1v1h-1zM85 2h1v1h-1zM87 2h2v1h-2zM75 3h1v1h-1zM78 3h1v1h-1zM81 3h1v1h-1zM84 3h6v1h-6zM71 4h1v1h-1zM76 4h4v1h-4zM81 4h10v1h-10zM73 5h1v1h-1zM76 5h2v1h-2zM79 5h12v1h-12zM96 5h1v1h-1zM76 6h1v1h-1zM78 6h3v1h-3zM82 6h2v1h-2zM85 6h5v1h-5zM97 6h1v1h-1zM64 7h1v1h-1zM75 7h3v1h-3zM79 7h1v1h-1zM82 7h1v1h-1zM86 7h1v1h-1zM92 7h1v1h-1zM99 7h1v1h-1zM72 8h2v1h-2zM75 8h2v1h-2zM78 8h3v1h-3zM82 8h1v1h-1zM86 8h1v1h-1zM98 8h1v1h-1zM43 9h1v1h-1zM70 9h1v1h-1zM72 9h1v1h-1zM75 9h1v1h-1zM78 9h2v1h-2zM83 9h1v1h-1zM98 9h1v1h-1zM100 9h1v1h-1zM40 10h1v1h-1zM68 10h4v1h-4zM73 10h2v1h-2zM79 10h2v1h-2zM96 10h4v1h-4zM101 10h1v1h-1zM106 10h1v1h-1zM31 11h1v1h-1zM40 11h1v1h-1zM70 11h3v1h-3zM74 11h2v1h-2zM82 11h2v1h-2zM96 11h4v1h-4zM101 11h1v1h-1zM104 11h1v1h-1zM29 12h2v1h-2zM44 12h2v1h-2zM50 12h1v1h-1zM68 12h8v1h-8zM78 12h1v1h-1zM80 12h5v1h-5zM94 12h2v1h-2zM99 12h4v1h-4zM106 12h1v1h-1zM30 13h1v1h-1zM33 13h1v1h-1zM40 13h1v1h-1zM43 13h1v1h-1zM49 13h1v1h-1zM70 13h3v1h-3zM78 13h3v1h-3zM83 13h3v1h-3zM87 13h1v1h-1zM90 13h7v1h-7zM98 13h2v1h-2zM101 13h1v1h-1zM103 13h2v1h-2zM106 13h1v1h-1zM26 14h3v1h-3zM32 14h1v1h-1zM42 14h1v1h-1zM69 14h4v1h-4zM76 14h4v1h-4zM83 14h1v1h-1zM88 14h1v1h-1zM92 14h4v1h-4zM100 14h1v1h-1zM103 14h2v1h-2zM108 14h1v1h-1zM25 15h2v1h-2zM30 15h1v1h-1zM32 15h1v1h-1zM69 15h4v1h-4zM75 15h2v1h-2zM78 15h7v1h-7zM90 15h1v1h-1zM93 15h2v1h-2zM97 15h2v1h-2zM100 15h3v1h-3zM104 15h1v1h-1zM107 15h1v1h-1zM110 15h1v1h-1zM113 15h1v1h-1zM116 15h2v1h-2zM25 16h2v1h-2zM28 16h3v1h-3zM59 16h1v1h-1zM71 16h2v1h-2zM78 16h9v1h-9zM88 16h3v1h-3zM97 16h8v1h-8zM107 16h1v1h-1zM111 16h4v1h-4zM116 16h2v1h-2zM22 17h5v1h-5zM29 17h3v1h-3zM38 17h2v1h-2zM41 17h2v1h-2zM53 17h1v1h-1zM58 17h1v1h-1zM62 17h1v1h-1zM76 17h7v1h-7zM84 17h2v1h-2zM87 17h4v1h-4zM98 17h5v1h-5zM104 17h1v1h-1zM107 17h1v1h-1zM115 17h3v1h-3zM120 17h3v1h-3zM22 18h5v1h-5zM28 18h4v1h-4zM38 18h1v1h-1zM41 18h1v1h-1zM53 18h2v1h-2zM56 18h1v1h-1zM60 18h1v1h-1zM77 18h2v1h-2zM80 18h1v1h-1zM82 18h1v1h-1zM84 18h5v1h-5zM90 18h1v1h-1zM98 18h5v1h-5zM104 18h1v1h-1zM106 18h1v1h-1zM114 18h3v1h-3zM121 18h3v1h-3zM21 19h1v1h-1zM23 19h2v1h-2zM27 19h3v1h-3zM31 19h2v1h-2zM36 19h1v1h-1zM54 19h1v1h-1zM56 19h5v1h-5zM77 19h1v1h-1zM80 19h1v1h-1zM82 19h4v1h-4zM87 19h1v1h-1zM90 19h1v1h-1zM97 19h1v1h-1zM99 19h2v1h-2zM104 19h4v1h-4zM109 19h1v1h-1zM113 19h4v1h-4zM123 19h3v1h-3zM22 20h1v1h-1zM25 20h1v1h-1zM27 20h4v1h-4zM32 20h2v1h-2zM36 20h2v1h-2zM39 20h4v1h-4zM54 20h3v1h-3zM58 20h2v1h-2zM61 20h2v1h-2zM78 20h6v1h-6zM86 20h2v1h-2zM89 20h1v1h-1zM93 20h1v1h-1zM98 20h5v1h-5zM104 20h3v1h-3zM109 20h6v1h-6zM116 20h1v1h-1zM122 20h2v1h-2zM125 20h1v1h-1zM22 21h1v1h-1zM24 21h1v1h-1zM27 21h3v1h-3zM31 21h3v1h-3zM38 21h6v1h-6zM53 21h12v1h-12zM74 21h1v1h-1zM79 21h3v1h-3zM83 21h1v1h-1zM85 21h1v1h-1zM87 21h1v1h-1zM92 21h2v1h-2zM97 21h5v1h-5zM104 21h4v1h-4zM109 21h3v1h-3zM115 21h2v1h-2zM118 21h3v1h-3zM122 21h6v1h-6zM21 22h1v1h-1zM24 22h1v1h-1zM30 22h2v1h-2zM34 22h2v1h-2zM37 22h3v1h-3zM52 22h1v1h-1zM56 22h1v1h-1zM59 22h2v1h-2zM62 22h2v1h-2zM74 22h1v1h-1zM76 22h3v1h-3zM80 22h2v1h-2zM83 22h6v1h-6zM90 22h1v1h-1zM98 22h10v1h-10zM109 22h5v1h-5zM115 22h1v1h-1zM118 22h5v1h-5zM124 22h4v1h-4zM21 23h6v1h-6zM29 23h10v1h-10zM47 23h2v1h-2zM53 23h2v1h-2zM57 23h10v1h-10zM70 23h5v1h-5zM76 23h3v1h-3zM82 23h6v1h-6zM99 23h4v1h-4zM104 23h3v1h-3zM109 23h2v1h-2zM112 23h1v1h-1zM114 23h1v1h-1zM117 23h4v1h-4zM122 23h1v1h-1zM126 23h1v1h-1zM129 23h1v1h-1zM20 24h1v1h-1zM24 24h5v1h-5zM31 24h1v1h-1zM33 24h2v1h-2zM36 24h5v1h-5zM42 24h1v1h-1zM44 24h1v1h-1zM52 24h3v1h-3zM57 24h1v1h-1zM60 24h3v1h-3zM65 24h1v1h-1zM70 24h6v1h-6zM78 24h1v1h-1zM81 24h2v1h-2zM86 24h3v1h-3zM91 24h1v1h-1zM93 24h1v1h-1zM100 24h6v1h-6zM108 24h3v1h-3zM114 24h1v1h-1zM119 24h4v1h-4zM124 24h2v1h-2zM128 24h1v1h-1zM130 24h1v1h-1zM21 25h1v1h-1zM25 25h4v1h-4zM31 25h1v1h-1zM36 25h1v1h-1zM38 25h3v1h-3zM42 25h1v1h-1zM44 25h1v1h-1zM59 25h4v1h-4zM64 25h3v1h-3zM72 25h2v1h-2zM76 25h3v1h-3zM80 25h6v1h-6zM91 25h1v1h-1zM95 25h1v1h-1zM102 25h6v1h-6zM111 25h1v1h-1zM115 25h2v1h-2zM118 25h2v1h-2zM121 25h1v1h-1zM123 25h6v1h-6zM17 26h1v1h-1zM19 26h1v1h-1zM21 26h2v1h-2zM24 26h2v1h-2zM29 26h1v1h-1zM38 26h5v1h-5zM44 26h1v1h-1zM62 26h1v1h-1zM64 26h2v1h-2zM70 26h1v1h-1zM72 26h5v1h-5zM78 26h3v1h-3zM82 26h3v1h-3zM87 26h2v1h-2zM94 26h2v1h-2zM99 26h6v1h-6zM114 26h4v1h-4zM121 26h1v1h-1zM123 26h1v1h-1zM126 26h3v1h-3zM131 26h1v1h-1zM16 27h2v1h-2zM19 27h1v1h-1zM21 27h1v1h-1zM23 27h1v1h-1zM25 27h1v1h-1zM29 27h2v1h-2zM38 27h3v1h-3zM42 27h1v1h-1zM49 27h1v1h-1zM52 27h1v1h-1zM61 27h4v1h-4zM71 27h3v1h-3zM75 27h1v1h-1zM77 27h2v1h-2zM83 27h2v1h-2zM91 27h1v1h-1zM99 27h7v1h-7zM112 27h3v1h-3zM120 27h3v1h-3zM126 27h1v1h-1zM130 27h3v1h-3zM12 28h1v1h-1zM19 28h1v1h-1zM23 28h2v1h-2zM36 28h1v1h-1zM39 28h4v1h-4zM44 28h1v1h-1zM49 28h6v1h-6zM57 28h1v1h-1zM60 28h2v1h-2zM67 28h1v1h-1zM71 28h8v1h-8zM80 28h1v1h-1zM82 28h1v1h-1zM89 28h1v1h-1zM97 28h1v1h-1zM99 28h5v1h-5zM125 28h1v1h-1zM128 28h6v1h-6zM11 29h1v1h-1zM19 29h6v1h-6zM32 29h5v1h-5zM38 29h3v1h-3zM48 29h1v1h-1zM50 29h5v1h-5zM58 29h1v1h-1zM60 29h1v1h-1zM68 29h6v1h-6zM75 29h1v1h-1zM77 29h3v1h-3zM85 29h2v1h-2zM89 29h1v1h-1zM99 29h4v1h-4zM123 29h1v1h-1zM126 29h1v1h-1zM129 29h1v1h-1zM133 29h1v1h-1zM17 30h2v1h-2zM21 30h4v1h-4zM26 30h1v1h-1zM29 30h2v1h-2zM32 30h3v1h-3zM48 30h1v1h-1zM50 30h5v1h-5zM56 30h1v1h-1zM58 30h2v1h-2zM61 30h1v1h-1zM63 30h1v1h-1zM65 30h1v1h-1zM69 30h1v1h-1zM71 30h2v1h-2zM74 30h1v1h-1zM77 30h1v1h-1zM79 30h3v1h-3zM84 30h2v1h-2zM87 30h4v1h-4zM98 30h7v1h-7zM108 30h1v1h-1zM122 30h3v1h-3zM128 30h3v1h-3zM16 31h1v1h-1zM18 31h2v1h-2zM22 31h5v1h-5zM32 31h2v1h-2zM43 31h1v1h-1zM48 31h2v1h-2zM51 31h1v1h-1zM53 31h7v1h-7zM61 31h3v1h-3zM65 31h1v1h-1zM69 31h2v1h-2zM73 31h1v1h-1zM77 31h2v1h-2zM80 31h2v1h-2zM85 31h2v1h-2zM88 31h3v1h-3zM92 31h1v1h-1zM94 31h3v1h-3zM98 31h3v1h-3zM103 31h2v1h-2zM108 31h1v1h-1zM125 31h2v1h-2zM129 31h4v1h-4zM17 32h4v1h-4zM22 32h11v1h-11zM47 32h5v1h-5zM54 32h3v1h-3zM58 32h9v1h-9zM70 32h1v1h-1zM77 32h2v1h-2zM80 32h1v1h-1zM83 32h1v1h-1zM85 32h13v1h-13zM99 32h3v1h-3zM103 32h3v1h-3zM107 32h1v1h-1zM125 32h2v1h-2zM129 32h3v1h-3zM21 33h2v1h-2zM24 33h9v1h-9zM34 33h1v1h-1zM48 33h3v1h-3zM54 33h1v1h-1zM58 33h4v1h-4zM63 33h3v1h-3zM76 33h4v1h-4zM81 33h6v1h-6zM90 33h1v1h-1zM92 33h2v1h-2zM95 33h2v1h-2zM100 33h2v1h-2zM103 33h2v1h-2zM128 33h2v1h-2zM132 33h1v1h-1zM135 33h1v1h-1zM21 34h1v1h-1zM25 34h1v1h-1zM27 34h8v1h-8zM50 34h1v1h-1zM56 34h1v1h-1zM60 34h2v1h-2zM64 34h1v1h-1zM76 34h4v1h-4zM82 34h4v1h-4zM87 34h3v1h-3zM92 34h1v1h-1zM98 34h3v1h-3zM102 34h3v1h-3zM19 35h2v1h-2zM25 35h5v1h-5zM31 35h1v1h-1zM49 35h1v1h-1zM51 35h1v1h-1zM53 35h2v1h-2zM56 35h2v1h-2zM59 35h1v1h-1zM61 35h1v1h-1zM64 35h3v1h-3zM76 35h1v1h-1zM78 35h1v1h-1zM82 35h5v1h-5zM88 35h2v1h-2zM91 35h1v1h-1zM95 35h1v1h-1zM98 35h1v1h-1zM100 35h3v1h-3zM104 35h2v1h-2zM133 35h1v1h-1zM19 36h2v1h-2zM24 36h5v1h-5zM30 36h4v1h-4zM48 36h3v1h-3zM55 36h1v1h-1zM59 36h1v1h-1zM61 36h2v1h-2zM64 36h5v1h-5zM77 36h2v1h-2zM81 36h2v1h-2zM85 36h6v1h-6zM96 36h3v1h-3zM100 36h1v1h-1zM102 36h1v1h-1zM104 36h2v1h-2zM116 36h1v1h-1zM131 36h1v1h-1zM136 36h1v1h-1zM23 37h7v1h-7zM31 37h1v1h-1zM53 37h1v1h-1zM55 37h1v1h-1zM58 37h8v1h-8zM67 37h1v1h-1zM76 37h3v1h-3zM81 37h1v1h-1zM85 37h1v1h-1zM87 37h4v1h-4zM92 37h2v1h-2zM98 37h1v1h-1zM101 37h1v1h-1zM103 37h1v1h-1zM105 37h2v1h-2zM114 37h3v1h-3zM122 37h1v1h-1zM129 37h5v1h-5zM135 37h3v1h-3zM21 38h9v1h-9zM59 38h2v1h-2zM62 38h4v1h-4zM73 38h7v1h-7zM88 38h6v1h-6zM95 38h1v1h-1zM98 38h3v1h-3zM102 38h1v1h-1zM104 38h2v1h-2zM111 38h1v1h-1zM113 38h1v1h-1zM118 38h3v1h-3zM128 38h12v1h-12zM22 39h2v1h-2zM25 39h8v1h-8zM59 39h8v1h-8zM68 39h6v1h-6zM75 39h2v1h-2zM79 39h1v1h-1zM81 39h1v1h-1zM90 39h3v1h-3zM94 39h3v1h-3zM99 39h3v1h-3zM104 39h9v1h-9zM116 39h6v1h-6zM123 39h1v1h-1zM127 39h1v1h-1zM129 39h9v1h-9zM7 40h2v1h-2zM12 40h1v1h-1zM23 40h6v1h-6zM30 40h4v1h-4zM41 40h2v1h-2zM66 40h15v1h-15zM84 40h3v1h-3zM91 40h4v1h-4zM98 40h3v1h-3zM104 40h10v1h-10zM115 40h3v1h-3zM119 40h5v1h-5zM125 40h10v1h-10zM136 40h4v1h-4zM24 41h4v1h-4zM29 41h1v1h-1zM32 41h3v1h-3zM41 41h2v1h-2zM55 41h1v1h-1zM57 41h2v1h-2zM66 41h2v1h-2zM70 41h2v1h-2zM74 41h1v1h-1zM76 41h4v1h-4zM82 41h1v1h-1zM84 41h1v1h-1zM92 41h3v1h-3zM97 41h3v1h-3zM106 41h3v1h-3zM110 41h3v1h-3zM114 41h1v1h-1zM116 41h2v1h-2zM120 41h1v1h-1zM122 41h8v1h-8zM131 41h2v1h-2zM135 41h2v1h-2zM138 41h3v1h-3zM8 42h1v1h-1zM24 42h1v1h-1zM27 42h3v1h-3zM31 42h4v1h-4zM41 42h1v1h-1zM54 42h4v1h-4zM68 42h3v1h-3zM72 42h9v1h-9zM83 42h1v1h-1zM93 42h3v1h-3zM97 42h3v1h-3zM107 42h8v1h-8zM116 42h2v1h-2zM120 42h1v1h-1zM122 42h9v1h-9zM135 42h4v1h-4zM140 42h1v1h-1zM14 43h1v1h-1zM24 43h2v1h-2zM27 43h1v1h-1zM30 43h4v1h-4zM37 43h1v1h-1zM41 43h1v1h-1zM48 43h1v1h-1zM51 43h2v1h-2zM56 43h2v1h-2zM73 43h2v1h-2zM76 43h6v1h-6zM83 43h1v1h-1zM95 43h3v1h-3zM99 43h1v1h-1zM106 43h1v1h-1zM110 43h1v1h-1zM112 43h2v1h-2zM115 43h2v1h-2zM119 43h2v1h-2zM124 43h3v1h-3zM128 43h2v1h-2zM133 43h1v1h-1zM136 43h3v1h-3zM12 44h1v1h-1zM24 44h2v1h-2zM31 44h2v1h-2zM35 44h1v1h-1zM40 44h5v1h-5zM49 44h1v1h-1zM52 44h1v1h-1zM70 44h3v1h-3zM75 44h6v1h-6zM86 44h1v1h-1zM94 44h5v1h-5zM111 44h3v1h-3zM115 44h2v1h-2zM118 44h1v1h-1zM120 44h1v1h-1zM124 44h1v1h-1zM126 44h3v1h-3zM131 44h1v1h-1zM133 44h2v1h-2zM136 44h1v1h-1zM138 44h1v1h-1zM141 44h1v1h-1zM10 45h1v1h-1zM12 45h1v1h-1zM20 45h2v1h-2zM23 45h3v1h-3zM29 45h2v1h-2zM32 45h2v1h-2zM35 45h3v1h-3zM39 45h3v1h-3zM46 45h1v1h-1zM48 45h2v1h-2zM65 45h1v1h-1zM70 45h8v1h-8zM83 45h1v1h-1zM96 45h4v1h-4zM110 45h3v1h-3zM114 45h1v1h-1zM117 45h2v1h-2zM120 45h2v1h-2zM124 45h3v1h-3zM128 45h1v1h-1zM131 45h1v1h-1zM134 45h1v1h-1zM138 45h1v1h-1zM140 45h2v1h-2zM7 46h2v1h-2zM10 46h1v1h-1zM20 46h6v1h-6zM28 46h8v1h-8zM38 46h3v1h-3zM46 46h4v1h-4zM70 46h2v1h-2zM73 46h4v1h-4zM79 46h1v1h-1zM82 46h1v1h-1zM93 46h1v1h-1zM95 46h3v1h-3zM108 46h4v1h-4zM113 46h7v1h-7zM124 46h1v1h-1zM127 46h1v1h-1zM137 46h5v1h-5zM16 47h1v1h-1zM20 47h3v1h-3zM24 47h2v1h-2zM28 47h3v1h-3zM33 47h3v1h-3zM39 47h3v1h-3zM46 47h2v1h-2zM70 47h2v1h-2zM84 47h3v1h-3zM91 47h2v1h-2zM95 47h2v1h-2zM99 47h2v1h-2zM109 47h1v1h-1zM111 47h1v1h-1zM114 47h2v1h-2zM117 47h1v1h-1zM119 47h2v1h-2zM122 47h1v1h-1zM135 47h1v1h-1zM137 47h5v1h-5zM5 48h1v1h-1zM17 48h10v1h-10zM28 48h4v1h-4zM33 48h1v1h-1zM39 48h5v1h-5zM47 48h1v1h-1zM70 48h2v1h-2zM73 48h1v1h-1zM78 48h1v1h-1zM84 48h1v1h-1zM86 48h1v1h-1zM91 48h5v1h-5zM99 48h3v1h-3zM105 48h1v1h-1zM110 48h1v1h-1zM112 48h1v1h-1zM114 48h3v1h-3zM119 48h2v1h-2zM122 48h1v1h-1zM133 48h1v1h-1zM135 48h1v1h-1zM137 48h6v1h-6zM15 49h2v1h-2zM24 49h2v1h-2zM28 49h4v1h-4zM33 49h2v1h-2zM36 49h1v1h-1zM38 49h6v1h-6zM46 49h3v1h-3zM62 49h1v1h-1zM70 49h2v1h-2zM87 49h1v1h-1zM90 49h4v1h-4zM102 49h3v1h-3zM108 49h7v1h-7zM116 49h1v1h-1zM122 49h1v1h-1zM127 49h3v1h-3zM132 49h1v1h-1zM135 49h1v1h-1zM137 49h3v1h-3zM141 49h2v1h-2zM26 50h1v1h-1zM28 50h1v1h-1zM31 50h1v1h-1zM33 50h2v1h-2zM37 50h4v1h-4zM42 50h1v1h-1zM44 50h1v1h-1zM47 50h2v1h-2zM71 50h1v1h-1zM87 50h1v1h-1zM90 50h3v1h-3zM101 50h4v1h-4zM106 50h1v1h-1zM108 50h2v1h-2zM111 50h1v1h-1zM114 50h6v1h-6zM127 50h1v1h-1zM134 50h2v1h-2zM139 50h1v1h-1zM28 51h3v1h-3zM32 51h1v1h-1zM34 51h1v1h-1zM38 51h5v1h-5zM47 51h1v1h-1zM50 51h1v1h-1zM70 51h1v1h-1zM72 51h1v1h-1zM86 51h4v1h-4zM97 51h1v1h-1zM100 51h5v1h-5zM106 51h6v1h-6zM116 51h2v1h-2zM123 51h2v1h-2zM135 51h1v1h-1zM137 51h1v1h-1zM25 52h1v1h-1zM28 52h1v1h-1zM33 52h1v1h-1zM35 52h6v1h-6zM42 52h1v1h-1zM45 52h1v1h-1zM47 52h2v1h-2zM50 52h1v1h-1zM57 52h2v1h-2zM87 52h2v1h-2zM90 52h1v1h-1zM92 52h5v1h-5zM100 52h1v1h-1zM102 52h3v1h-3zM106 52h2v1h-2zM109 52h4v1h-4zM114 52h2v1h-2zM117 52h1v1h-1zM123 52h1v1h-1zM137 52h2v1h-2zM33 53h1v1h-1zM35 53h5v1h-5zM45 53h4v1h-4zM50 53h1v1h-1zM54 53h2v1h-2zM57 53h1v1h-1zM72 53h1v1h-1zM84 53h1v1h-1zM86 53h7v1h-7zM100 53h2v1h-2zM103 53h3v1h-3zM108 53h3v1h-3zM112 53h4v1h-4zM122 53h2v1h-2zM132 53h1v1h-1zM137 53h2v1h-2zM34 54h4v1h-4zM40 54h3v1h-3zM44 54h3v1h-3zM49 54h4v1h-4zM54 54h3v1h-3zM59 54h1v1h-1zM66 54h2v1h-2zM78 54h4v1h-4zM84 54h11v1h-11zM96 54h8v1h-8zM105 54h1v1h-1zM108 54h1v1h-1zM111 54h1v1h-1zM113 54h3v1h-3zM119 54h1v1h-1zM123 54h1v1h-1zM127 54h1v1h-1zM35 55h1v1h-1zM37 55h2v1h-2zM40 55h3v1h-3zM44 55h5v1h-5zM50 55h3v1h-3zM55 55h3v1h-3zM60 55h2v1h-2zM66 55h2v1h-2zM70 55h1v1h-1zM73 55h2v1h-2zM77 55h2v1h-2zM80 55h1v1h-1zM82 55h2v1h-2zM85 55h1v1h-1zM91 55h4v1h-4zM96 55h3v1h-3zM100 55h6v1h-6zM108 55h2v1h-2zM112 55h1v1h-1zM114 55h1v1h-1zM116 55h1v1h-1zM122 55h1v1h-1zM125 55h1v1h-1zM140 55h1v1h-1zM36 56h2v1h-2zM39 56h3v1h-3zM44 56h5v1h-5zM50 56h1v1h-1zM53 56h11v1h-11zM66 56h1v1h-1zM70 56h1v1h-1zM72 56h4v1h-4zM77 56h4v1h-4zM82 56h4v1h-4zM87 56h1v1h-1zM89 56h10v1h-10zM102 56h4v1h-4zM124 56h2v1h-2zM140 56h1v1h-1zM39 57h1v1h-1zM43 57h1v1h-1zM45 57h2v1h-2zM51 57h1v1h-1zM53 57h1v1h-1zM56 57h1v1h-1zM60 57h1v1h-1zM62 57h4v1h-4zM69 57h1v1h-1zM78 57h1v1h-1zM80 57h1v1h-1zM83 57h3v1h-3zM87 57h1v1h-1zM91 57h5v1h-5zM98 57h3v1h-3zM102 57h3v1h-3zM122 57h3v1h-3zM127 57h1v1h-1zM41 58h1v1h-1zM45 58h3v1h-3zM54 58h1v1h-1zM56 58h1v1h-1zM61 58h3v1h-3zM65 58h2v1h-2zM68 58h1v1h-1zM70 58h2v1h-2zM78 58h1v1h-1zM81 58h1v1h-1zM83 58h3v1h-3zM91 58h2v1h-2zM94 58h4v1h-4zM101 58h3v1h-3zM105 58h2v1h-2zM123 58h2v1h-2zM132 58h2v1h-2zM138 58h2v1h-2zM34 59h2v1h-2zM45 59h2v1h-2zM49 59h1v1h-1zM53 59h1v1h-1zM55 59h3v1h-3zM62 59h2v1h-2zM65 59h8v1h-8zM78 59h1v1h-1zM80 59h3v1h-3zM89 59h1v1h-1zM92 59h4v1h-4zM97 59h1v1h-1zM101 59h2v1h-2zM104 59h2v1h-2zM119 59h1v1h-1zM123 59h1v1h-1zM125 59h3v1h-3zM131 59h1v1h-1zM133 59h1v1h-1zM139 59h1v1h-1zM44 60h2v1h-2zM57 60h1v1h-1zM63 60h1v1h-1zM69 60h1v1h-1zM71 60h3v1h-3zM77 60h2v1h-2zM81 60h1v1h-1zM84 60h1v1h-1zM86 60h2v1h-2zM89 60h1v1h-1zM91 60h1v1h-1zM93 60h1v1h-1zM95 60h2v1h-2zM99 60h2v1h-2zM102 60h1v1h-1zM107 60h1v1h-1zM121 60h1v1h-1zM123 60h1v1h-1zM127 60h10v1h-10zM138 60h3v1h-3zM30 61h2v1h-2zM35 61h1v1h-1zM41 61h1v1h-1zM45 61h1v1h-1zM56 61h1v1h-1zM58 61h1v1h-1zM63 61h2v1h-2zM69 61h2v1h-2zM72 61h9v1h-9zM84 61h1v1h-1zM91 61h9v1h-9zM102 61h2v1h-2zM109 61h1v1h-1zM121 61h3v1h-3zM127 61h1v1h-1zM129 61h1v1h-1zM132 61h1v1h-1zM135 61h5v1h-5zM30 62h2v1h-2zM35 62h3v1h-3zM40 62h1v1h-1zM45 62h1v1h-1zM64 62h1v1h-1zM67 62h3v1h-3zM71 62h1v1h-1zM73 62h1v1h-1zM75 62h1v1h-1zM77 62h1v1h-1zM80 62h5v1h-5zM86 62h3v1h-3zM92 62h1v1h-1zM94 62h2v1h-2zM97 62h1v1h-1zM99 62h1v1h-1zM102 62h1v1h-1zM107 62h1v1h-1zM111 62h3v1h-3zM122 62h1v1h-1zM126 62h1v1h-1zM129 62h5v1h-5zM136 62h2v1h-2zM139 62h1v1h-1zM24 63h1v1h-1zM29 63h4v1h-4zM46 63h1v1h-1zM64 63h1v1h-1zM66 63h1v1h-1zM68 63h1v1h-1zM73 63h1v1h-1zM75 63h7v1h-7zM83 63h1v1h-1zM85 63h3v1h-3zM89 63h1v1h-1zM91 63h6v1h-6zM98 63h1v1h-1zM100 63h2v1h-2zM119 63h1v1h-1zM122 63h3v1h-3zM126 63h1v1h-1zM129 63h1v1h-1zM131 63h4v1h-4zM138 63h3v1h-3zM24 64h3v1h-3zM29 64h4v1h-4zM34 64h3v1h-3zM40 64h3v1h-3zM46 64h2v1h-2zM64 64h1v1h-1zM68 64h5v1h-5zM74 64h4v1h-4zM80 64h4v1h-4zM87 64h3v1h-3zM91 64h5v1h-5zM98 64h1v1h-1zM100 64h1v1h-1zM102 64h3v1h-3zM106 64h2v1h-2zM110 64h1v1h-1zM117 64h6v1h-6zM124 64h6v1h-6zM132 64h3v1h-3zM136 64h1v1h-1zM138 64h4v1h-4zM4 65h1v1h-1zM23 65h1v1h-1zM26 65h1v1h-1zM30 65h1v1h-1zM32 65h4v1h-4zM38 65h1v1h-1zM42 65h3v1h-3zM46 65h2v1h-2zM67 65h1v1h-1zM70 65h4v1h-4zM83 65h2v1h-2zM86 65h2v1h-2zM90 65h2v1h-2zM93 65h1v1h-1zM96 65h1v1h-1zM98 65h3v1h-3zM104 65h1v1h-1zM107 65h1v1h-1zM110 65h1v1h-1zM116 65h3v1h-3zM121 65h8v1h-8zM131 65h2v1h-2zM134 65h2v1h-2zM137 65h5v1h-5zM28 66h1v1h-1zM30 66h3v1h-3zM38 66h1v1h-1zM50 66h1v1h-1zM63 66h1v1h-1zM66 66h1v1h-1zM73 66h1v1h-1zM86 66h4v1h-4zM92 66h1v1h-1zM94 66h1v1h-1zM96 66h1v1h-1zM98 66h1v1h-1zM100 66h1v1h-1zM104 66h1v1h-1zM107 66h1v1h-1zM110 66h3v1h-3zM114 66h6v1h-6zM122 66h2v1h-2zM125 66h1v1h-1zM127 66h1v1h-1zM129 66h1v1h-1zM131 66h3v1h-3zM135 66h1v1h-1zM137 66h3v1h-3zM30 67h2v1h-2zM38 67h1v1h-1zM51 67h1v1h-1zM66 67h1v1h-1zM75 67h1v1h-1zM80 67h1v1h-1zM85 67h1v1h-1zM87 67h2v1h-2zM90 67h1v1h-1zM92 67h1v1h-1zM94 67h10v1h-10zM105 67h3v1h-3zM109 67h4v1h-4zM114 67h2v1h-2zM117 67h3v1h-3zM123 67h10v1h-10zM135 67h4v1h-4zM140 67h1v1h-1zM27 68h2v1h-2zM65 68h1v1h-1zM87 68h2v1h-2zM90 68h1v1h-1zM92 68h2v1h-2zM95 68h4v1h-4zM100 68h3v1h-3zM104 68h4v1h-4zM110 68h1v1h-1zM112 68h7v1h-7zM120 68h1v1h-1zM123 68h2v1h-2zM128 68h1v1h-1zM130 68h10v1h-10zM27 69h1v1h-1zM89 69h7v1h-7zM97 69h1v1h-1zM100 69h2v1h-2zM103 69h8v1h-8zM112 69h2v1h-2zM115 69h4v1h-4zM127 69h1v1h-1zM131 69h7v1h-7zM139 69h1v1h-1zM83 70h1v1h-1zM90 70h1v1h-1zM97 70h1v1h-1zM101 70h1v1h-1zM103 70h2v1h-2zM107 70h2v1h-2zM111 70h5v1h-5zM119 70h2v1h-2zM124 70h1v1h-1zM128 70h1v1h-1zM134 70h4v1h-4zM139 70h1v1h-1zM76 71h1v1h-1zM101 71h1v1h-1zM107 71h1v1h-1zM109 71h2v1h-2zM112 71h3v1h-3zM117 71h3v1h-3zM133 71h1v1h-1zM135 71h2v1h-2zM138 71h2v1h-2zM76 72h1v1h-1zM100 72h3v1h-3zM109 72h1v1h-1zM111 72h1v1h-1zM113 72h1v1h-1zM116 72h4v1h-4zM131 72h1v1h-1zM133 72h2v1h-2zM136 72h2v1h-2zM98 73h4v1h-4zM111 73h5v1h-5zM118 73h1v1h-1zM121 73h1v1h-1zM132 73h4v1h-4zM10 74h1v1h-1zM99 74h1v1h-1zM110 74h3v1h-3zM115 74h1v1h-1zM117 74h3v1h-3zM121 74h3v1h-3zM132 74h1v1h-1zM134 74h2v1h-2zM138 74h1v1h-1zM7 75h1v1h-1zM10 75h2v1h-2zM25 75h1v1h-1zM92 75h2v1h-2zM98 75h1v1h-1zM108 75h2v1h-2zM111 75h1v1h-1zM115 75h2v1h-2zM118 75h4v1h-4zM134 75h4v1h-4zM8 76h2v1h-2zM12 76h1v1h-1zM14 76h1v1h-1zM21 76h3v1h-3zM25 76h2v1h-2zM61 76h2v1h-2zM73 76h1v1h-1zM89 76h3v1h-3zM107 76h2v1h-2zM110 76h7v1h-7zM133 76h1v1h-1zM135 76h1v1h-1zM14 77h1v1h-1zM17 77h3v1h-3zM21 77h1v1h-1zM24 77h1v1h-1zM26 77h1v1h-1zM57 77h1v1h-1zM59 77h1v1h-1zM61 77h2v1h-2zM75 77h1v1h-1zM89 77h3v1h-3zM94 77h3v1h-3zM99 77h1v1h-1zM107 77h4v1h-4zM112 77h2v1h-2zM115 77h1v1h-1zM121 77h1v1h-1zM123 77h3v1h-3zM133 77h4v1h-4zM8 78h1v1h-1zM17 78h3v1h-3zM25 78h1v1h-1zM55 78h3v1h-3zM59 78h3v1h-3zM72 78h3v1h-3zM76 78h3v1h-3zM86 78h1v1h-1zM88 78h4v1h-4zM94 78h3v1h-3zM99 78h1v1h-1zM105 78h3v1h-3zM110 78h4v1h-4zM115 78h3v1h-3zM133 78h2v1h-2zM136 78h1v1h-1zM14 79h1v1h-1zM16 79h1v1h-1zM19 79h1v1h-1zM25 79h2v1h-2zM55 79h4v1h-4zM60 79h1v1h-1zM62 79h1v1h-1zM72 79h2v1h-2zM75 79h1v1h-1zM77 79h3v1h-3zM89 79h2v1h-2zM93 79h8v1h-8zM104 79h14v1h-14zM135 79h1v1h-1zM14 80h2v1h-2zM26 80h3v1h-3zM55 80h1v1h-1zM57 80h6v1h-6zM70 80h2v1h-2zM73 80h3v1h-3zM78 80h1v1h-1zM94 80h5v1h-5zM100 80h1v1h-1zM104 80h1v1h-1zM107 80h1v1h-1zM109 80h7v1h-7zM118 80h1v1h-1zM124 80h1v1h-1zM129 80h3v1h-3zM133 80h1v1h-1zM11 81h1v1h-1zM13 81h1v1h-1zM15 81h2v1h-2zM26 81h7v1h-7zM47 81h1v1h-1zM55 81h3v1h-3zM60 81h1v1h-1zM63 81h1v1h-1zM70 81h9v1h-9zM90 81h1v1h-1zM94 81h2v1h-2zM97 81h1v1h-1zM100 81h2v1h-2zM103 81h2v1h-2zM108 81h2v1h-2zM113 81h5v1h-5zM127 81h1v1h-1zM130 81h2v1h-2zM133 81h1v1h-1zM12 82h4v1h-4zM20 82h2v1h-2zM27 82h2v1h-2zM30 82h2v1h-2zM33 82h1v1h-1zM38 82h1v1h-1zM40 82h1v1h-1zM43 82h1v1h-1zM46 82h2v1h-2zM54 82h4v1h-4zM59 82h1v1h-1zM62 82h2v1h-2zM66 82h1v1h-1zM70 82h6v1h-6zM77 82h1v1h-1zM79 82h1v1h-1zM94 82h4v1h-4zM99 82h2v1h-2zM109 82h2v1h-2zM112 82h1v1h-1zM121 82h1v1h-1zM125 82h1v1h-1zM127 82h1v1h-1zM130 82h2v1h-2zM12 83h2v1h-2zM22 83h5v1h-5zM30 83h6v1h-6zM41 83h3v1h-3zM46 83h2v1h-2zM50 83h1v1h-1zM54 83h3v1h-3zM59 83h4v1h-4zM69 83h3v1h-3zM73 83h3v1h-3zM79 83h1v1h-1zM81 83h1v1h-1zM93 83h3v1h-3zM97 83h3v1h-3zM108 83h4v1h-4zM114 83h5v1h-5zM124 83h2v1h-2zM127 83h2v1h-2zM130 83h1v1h-1zM132 83h1v1h-1zM12 84h3v1h-3zM28 84h6v1h-6zM38 84h1v1h-1zM42 84h2v1h-2zM50 84h5v1h-5zM56 84h4v1h-4zM61 84h3v1h-3zM69 84h6v1h-6zM76 84h3v1h-3zM81 84h1v1h-1zM95 84h1v1h-1zM97 84h1v1h-1zM109 84h3v1h-3zM114 84h2v1h-2zM118 84h2v1h-2zM123 84h8v1h-8zM132 84h1v1h-1zM13 85h4v1h-4zM18 85h4v1h-4zM25 85h6v1h-6zM32 85h1v1h-1zM46 85h8v1h-8zM59 85h1v1h-1zM62 85h2v1h-2zM72 85h2v1h-2zM77 85h2v1h-2zM98 85h1v1h-1zM110 85h2v1h-2zM113 85h2v1h-2zM117 85h2v1h-2zM124 85h4v1h-4zM129 85h3v1h-3zM15 86h2v1h-2zM18 86h4v1h-4zM25 86h2v1h-2zM30 86h7v1h-7zM40 86h1v1h-1zM42 86h2v1h-2zM45 86h4v1h-4zM51 86h5v1h-5zM62 86h2v1h-2zM69 86h4v1h-4zM76 86h4v1h-4zM98 86h1v1h-1zM113 86h2v1h-2zM116 86h2v1h-2zM124 86h2v1h-2zM15 87h7v1h-7zM23 87h5v1h-5zM30 87h2v1h-2zM34 87h2v1h-2zM39 87h5v1h-5zM48 87h2v1h-2zM51 87h3v1h-3zM63 87h1v1h-1zM68 87h1v1h-1zM71 87h2v1h-2zM78 87h2v1h-2zM88 87h1v1h-1zM90 87h1v1h-1zM93 87h2v1h-2zM96 87h1v1h-1zM110 87h1v1h-1zM115 87h1v1h-1zM121 87h1v1h-1zM125 87h1v1h-1zM16 88h1v1h-1zM20 88h1v1h-1zM22 88h2v1h-2zM25 88h3v1h-3zM32 88h3v1h-3zM36 88h1v1h-1zM40 88h2v1h-2zM53 88h2v1h-2zM62 88h3v1h-3zM74 88h1v1h-1zM78 88h1v1h-1zM112 88h1v1h-1zM114 88h2v1h-2zM119 88h1v1h-1zM121 88h3v1h-3zM125 88h1v1h-1zM127 88h1v1h-1zM26 89h2v1h-2zM31 89h6v1h-6zM50 89h2v1h-2zM53 89h2v1h-2zM56 89h4v1h-4zM63 89h1v1h-1zM70 89h1v1h-1zM74 89h1v1h-1zM76 89h3v1h-3zM105 89h1v1h-1zM111 89h1v1h-1zM116 89h1v1h-1zM118 89h2v1h-2zM124 89h2v1h-2zM30 90h1v1h-1zM34 90h4v1h-4zM51 90h1v1h-1zM53 90h5v1h-5zM59 90h2v1h-2zM62 90h1v1h-1zM66 90h1v1h-1zM72 90h1v1h-1zM75 90h6v1h-6zM106 90h3v1h-3zM118 90h1v1h-1zM120 90h2v1h-2zM123 90h1v1h-1zM37 91h1v1h-1zM51 91h1v1h-1zM53 91h1v1h-1zM57 91h1v1h-1zM59 91h4v1h-4zM68 91h1v1h-1zM71 91h2v1h-2zM74 91h1v1h-1zM78 91h1v1h-1zM106 91h1v1h-1zM111 91h1v1h-1zM118 91h2v1h-2zM121 91h1v1h-1zM123 91h1v1h-1zM35 92h1v1h-1zM49 92h3v1h-3zM53 92h1v1h-1zM56 92h5v1h-5zM62 92h3v1h-3zM66 92h4v1h-4zM77 92h5v1h-5zM87 92h1v1h-1zM100 92h1v1h-1zM105 92h3v1h-3zM109 92h1v1h-1zM117 92h6v1h-6zM124 92h1v1h-1zM21 93h1v1h-1zM34 93h1v1h-1zM38 93h1v1h-1zM51 93h1v1h-1zM54 93h3v1h-3zM58 93h1v1h-1zM60 93h10v1h-10zM72 93h2v1h-2zM77 93h1v1h-1zM87 93h1v1h-1zM100 93h1v1h-1zM105 93h2v1h-2zM110 93h1v1h-1zM117 93h1v1h-1zM120 93h1v1h-1zM123 93h1v1h-1zM34 94h1v1h-1zM50 94h3v1h-3zM54 94h1v1h-1zM58 94h2v1h-2zM62 94h2v1h-2zM67 94h4v1h-4zM72 94h3v1h-3zM76 94h1v1h-1zM78 94h1v1h-1zM82 94h3v1h-3zM101 94h1v1h-1zM105 94h2v1h-2zM28 95h1v1h-1zM34 95h4v1h-4zM49 95h4v1h-4zM56 95h1v1h-1zM58 95h1v1h-1zM63 95h1v1h-1zM67 95h7v1h-7zM76 95h1v1h-1zM83 95h4v1h-4zM99 95h4v1h-4zM105 95h7v1h-7zM116 95h1v1h-1zM34 96h4v1h-4zM50 96h1v1h-1zM52 96h2v1h-2zM57 96h2v1h-2zM62 96h3v1h-3zM66 96h4v1h-4zM71 96h1v1h-1zM73 96h3v1h-3zM78 96h1v1h-1zM80 96h2v1h-2zM84 96h1v1h-1zM86 96h1v1h-1zM88 96h1v1h-1zM90 96h2v1h-2zM101 96h4v1h-4zM106 96h3v1h-3zM113 96h4v1h-4zM118 96h2v1h-2zM34 97h3v1h-3zM52 97h2v1h-2zM60 97h2v1h-2zM65 97h1v1h-1zM68 97h1v1h-1zM71 97h4v1h-4zM76 97h1v1h-1zM78 97h4v1h-4zM84 97h3v1h-3zM88 97h2v1h-2zM107 97h3v1h-3zM112 97h2v1h-2zM115 97h3v1h-3zM34 98h4v1h-4zM47 98h4v1h-4zM56 98h6v1h-6zM63 98h1v1h-1zM67 98h5v1h-5zM74 98h1v1h-1zM77 98h7v1h-7zM87 98h3v1h-3zM107 98h1v1h-1zM109 98h1v1h-1zM112 98h2v1h-2zM116 98h1v1h-1zM31 99h1v1h-1zM34 99h5v1h-5zM47 99h1v1h-1zM49 99h2v1h-2zM56 99h1v1h-1zM59 99h1v1h-1zM68 99h7v1h-7zM76 99h1v1h-1zM80 99h5v1h-5zM86 99h3v1h-3zM100 99h1v1h-1zM109 99h1v1h-1zM112 99h3v1h-3zM34 100h1v1h-1zM38 100h1v1h-1zM42 100h2v1h-2zM45 100h1v1h-1zM49 100h1v1h-1zM53 100h1v1h-1zM56 100h6v1h-6zM63 100h1v1h-1zM70 100h6v1h-6zM79 100h1v1h-1zM83 100h6v1h-6zM101 100h1v1h-1zM108 100h2v1h-2zM112 100h1v1h-1zM36 101h1v1h-1zM39 101h7v1h-7zM52 101h1v1h-1zM54 101h5v1h-5zM60 101h5v1h-5zM66 101h1v1h-1zM70 101h1v1h-1zM72 101h3v1h-3zM76 101h2v1h-2zM82 101h6v1h-6zM89 101h1v1h-1zM107 101h2v1h-2zM110 101h1v1h-1zM36 102h1v1h-1zM39 102h4v1h-4zM45 102h1v1h-1zM50 102h1v1h-1zM52 102h13v1h-13zM69 102h1v1h-1zM71 102h6v1h-6zM80 102h1v1h-1zM82 102h1v1h-1zM84 102h2v1h-2zM89 102h1v1h-1zM101 102h1v1h-1zM106 102h1v1h-1zM108 102h1v1h-1zM38 103h1v1h-1zM46 103h1v1h-1zM50 103h2v1h-2zM53 103h2v1h-2zM56 103h2v1h-2zM59 103h5v1h-5zM65 103h2v1h-2zM70 103h1v1h-1zM74 103h3v1h-3zM78 103h5v1h-5zM84 103h4v1h-4zM101 103h1v1h-1zM46 104h1v1h-1zM50 104h1v1h-1zM52 104h3v1h-3zM57 104h1v1h-1zM59 104h1v1h-1zM61 104h2v1h-2zM67 104h2v1h-2zM70 104h1v1h-1zM72 104h1v1h-1zM75 104h11v1h-11zM47 105h1v1h-1zM50 105h1v1h-1zM52 105h3v1h-3zM57 105h3v1h-3zM61 105h1v1h-1zM69 105h4v1h-4zM74 105h6v1h-6zM81 105h1v1h-1zM83 105h5v1h-5zM91 105h1v1h-1zM46 106h1v1h-1zM48 106h1v1h-1zM50 106h1v1h-1zM52 106h1v1h-1zM54 106h2v1h-2zM57 106h1v1h-1zM59 106h5v1h-5zM69 106h1v1h-1zM71 106h6v1h-6zM78 106h2v1h-2zM81 106h9v1h-9zM91 106h1v1h-1zM94 106h1v1h-1zM52 107h3v1h-3zM57 107h3v1h-3zM65 107h8v1h-8zM75 107h1v1h-1zM78 107h2v1h-2zM81 107h2v1h-2zM84 107h5v1h-5zM90 107h2v1h-2zM94 107h1v1h-1zM57 108h2v1h-2zM60 108h1v1h-1zM67 108h1v1h-1zM69 108h4v1h-4zM77 108h1v1h-1zM79 108h2v1h-2zM83 108h3v1h-3zM87 108h2v1h-2zM59 109h3v1h-3zM67 109h1v1h-1zM69 109h7v1h-7zM77 109h3v1h-3zM81 109h3v1h-3zM85 109h1v1h-1zM71 110h2v1h-2z"/>
<path fill="#e6cfc0" d="M70 1h3v1h-3zM60 2h1v1h-1zM71 2h4v1h-4zM84 2h1v1h-1zM86 2h1v1h-1zM59 3h2v1h-2zM68 3h2v1h-2zM71 3h1v1h-1zM73 3h2v1h-2zM91 3h3v1h-3zM66 4h1v1h-1zM68 4h3v1h-3zM72 4h2v1h-2zM75 4h1v1h-1zM91 4h7v1h-7zM66 5h3v1h-3zM71 5h2v1h-2zM74 5h2v1h-2zM91 5h5v1h-5zM97 5h4v1h-4zM46 6h1v1h-1zM58 6h1v1h-1zM72 6h4v1h-4zM81 6h1v1h-1zM84 6h1v1h-1zM90 6h4v1h-4zM96 6h1v1h-1zM98 6h3v1h-3zM39 7h1v1h-1zM45 7h2v1h-2zM53 7h2v1h-2zM65 7h1v1h-1zM68 7h7v1h-7zM78 7h1v1h-1zM80 7h2v1h-2zM83 7h3v1h-3zM87 7h5v1h-5zM93 7h1v1h-1zM96 7h3v1h-3zM100 7h1v1h-1zM103 7h3v1h-3zM39 8h1v1h-1zM42 8h1v1h-1zM45 8h1v1h-1zM47 8h1v1h-1zM60 8h2v1h-2zM65 8h7v1h-7zM74 8h1v1h-1zM77 8h1v1h-1zM81 8h1v1h-1zM83 8h3v1h-3zM87 8h1v1h-1zM89 8h1v1h-1zM92 8h1v1h-1zM97 8h1v1h-1zM99 8h3v1h-3zM104 8h1v1h-1zM35 9h1v1h-1zM38 9h5v1h-5zM44 9h4v1h-4zM67 9h3v1h-3zM71 9h1v1h-1zM74 9h1v1h-1zM76 9h2v1h-2zM80 9h3v1h-3zM84 9h4v1h-4zM89 9h1v1h-1zM92 9h6v1h-6zM99 9h1v1h-1zM101 9h3v1h-3zM108 9h1v1h-1zM32 10h1v1h-1zM35 10h5v1h-5zM41 10h5v1h-5zM47 10h1v1h-1zM49 10h2v1h-2zM66 10h2v1h-2zM72 10h1v1h-1zM75 10h2v1h-2zM78 10h1v1h-1zM81 10h7v1h-7zM93 10h1v1h-1zM95 10h1v1h-1zM100 10h1v1h-1zM102 10h4v1h-4zM108 10h1v1h-1zM32 11h8v1h-8zM41 11h5v1h-5zM48 11h3v1h-3zM52 11h1v1h-1zM65 11h5v1h-5zM73 11h1v1h-1zM76 11h5v1h-5zM84 11h4v1h-4zM90 11h6v1h-6zM100 11h1v1h-1zM102 11h2v1h-2zM105 11h2v1h-2zM31 12h13v1h-13zM46 12h1v1h-1zM48 12h2v1h-2zM51 12h3v1h-3zM58 12h1v1h-1zM65 12h1v1h-1zM67 12h1v1h-1zM76 12h2v1h-2zM79 12h1v1h-1zM85 12h9v1h-9zM103 12h3v1h-3zM107 12h2v1h-2zM27 13h3v1h-3zM31 13h2v1h-2zM34 13h3v1h-3zM38 13h2v1h-2zM41 13h2v1h-2zM44 13h2v1h-2zM47 13h2v1h-2zM50 13h1v1h-1zM52 13h1v1h-1zM57 13h2v1h-2zM64 13h2v1h-2zM67 13h3v1h-3zM73 13h5v1h-5zM81 13h2v1h-2zM86 13h1v1h-1zM88 13h2v1h-2zM105 13h1v1h-1zM107 13h3v1h-3zM29 14h3v1h-3zM33 14h3v1h-3zM37 14h5v1h-5zM43 14h3v1h-3zM47 14h1v1h-1zM50 14h4v1h-4zM55 14h3v1h-3zM61 14h1v1h-1zM65 14h1v1h-1zM67 14h2v1h-2zM73 14h1v1h-1zM75 14h1v1h-1zM80 14h2v1h-2zM84 14h4v1h-4zM89 14h3v1h-3zM105 14h3v1h-3zM109 14h2v1h-2zM113 14h1v1h-1zM117 14h2v1h-2zM24 15h1v1h-1zM31 15h1v1h-1zM33 15h3v1h-3zM37 15h1v1h-1zM39 15h4v1h-4zM45 15h1v1h-1zM54 15h2v1h-2zM61 15h1v1h-1zM64 15h5v1h-5zM73 15h1v1h-1zM77 15h1v1h-1zM85 15h5v1h-5zM103 15h1v1h-1zM105 15h2v1h-2zM108 15h2v1h-2zM111 15h2v1h-2zM114 15h2v1h-2zM118 15h3v1h-3zM23 16h2v1h-2zM27 16h1v1h-1zM31 16h14v1h-14zM52 16h7v1h-7zM60 16h1v1h-1zM62 16h3v1h-3zM66 16h5v1h-5zM73 16h5v1h-5zM87 16h1v1h-1zM105 16h2v1h-2zM108 16h3v1h-3zM115 16h1v1h-1zM118 16h4v1h-4zM27 17h2v1h-2zM32 17h1v1h-1zM35 17h3v1h-3zM40 17h1v1h-1zM45 17h3v1h-3zM51 17h2v1h-2zM54 17h4v1h-4zM59 17h3v1h-3zM63 17h4v1h-4zM71 17h5v1h-5zM83 17h1v1h-1zM86 17h1v1h-1zM105 17h2v1h-2zM108 17h1v1h-1zM110 17h5v1h-5zM118 17h2v1h-2zM20 18h2v1h-2zM27 18h1v1h-1zM32 18h6v1h-6zM39 18h2v1h-2zM42 18h1v1h-1zM46 18h1v1h-1zM51 18h2v1h-2zM55 18h1v1h-1zM57 18h3v1h-3zM61 18h5v1h-5zM71 18h1v1h-1zM73 18h4v1h-4zM83 18h1v1h-1zM105 18h1v1h-1zM107 18h7v1h-7zM117 18h1v1h-1zM119 18h2v1h-2zM19 19h2v1h-2zM22 19h1v1h-1zM25 19h2v1h-2zM30 19h1v1h-1zM33 19h3v1h-3zM37 19h11v1h-11zM51 19h3v1h-3zM55 19h1v1h-1zM62 19h5v1h-5zM71 19h1v1h-1zM73 19h2v1h-2zM76 19h1v1h-1zM78 19h1v1h-1zM81 19h1v1h-1zM108 19h1v1h-1zM110 19h3v1h-3zM117 19h6v1h-6zM18 20h2v1h-2zM21 20h1v1h-1zM23 20h2v1h-2zM26 20h1v1h-1zM31 20h1v1h-1zM34 20h2v1h-2zM38 20h1v1h-1zM43 20h3v1h-3zM48 20h6v1h-6zM63 20h3v1h-3zM74 20h4v1h-4zM84 20h2v1h-2zM108 20h1v1h-1zM115 20h1v1h-1zM117 20h5v1h-5zM126 20h1v1h-1zM17 21h5v1h-5zM23 21h1v1h-1zM25 21h2v1h-2zM30 21h1v1h-1zM35 21h2v1h-2zM44 21h1v1h-1zM47 21h1v1h-1zM49 21h4v1h-4zM65 21h1v1h-1zM73 21h1v1h-1zM76 21h3v1h-3zM82 21h1v1h-1zM84 21h1v1h-1zM86 21h1v1h-1zM108 21h1v1h-1zM112 21h3v1h-3zM117 21h1v1h-1zM121 21h1v1h-1zM16 22h5v1h-5zM22 22h2v1h-2zM25 22h4v1h-4zM36 22h1v1h-1zM40 22h12v1h-12zM53 22h3v1h-3zM64 22h10v1h-10zM75 22h1v1h-1zM79 22h1v1h-1zM82 22h1v1h-1zM108 22h1v1h-1zM116 22h2v1h-2zM15 23h1v1h-1zM19 23h2v1h-2zM27 23h2v1h-2zM40 23h5v1h-5zM46 23h1v1h-1zM49 23h2v1h-2zM52 23h1v1h-1zM55 23h1v1h-1zM67 23h3v1h-3zM75 23h1v1h-1zM79 23h3v1h-3zM103 23h1v1h-1zM107 23h2v1h-2zM111 23h1v1h-1zM115 23h2v1h-2zM121 23h1v1h-1zM17 24h1v1h-1zM19 24h1v1h-1zM21 24h3v1h-3zM41 24h1v1h-1zM43 24h1v1h-1zM45 24h7v1h-7zM55 24h2v1h-2zM58 24h2v1h-2zM63 24h2v1h-2zM66 24h4v1h-4zM76 24h2v1h-2zM79 24h2v1h-2zM83 24h3v1h-3zM106 24h2v1h-2zM111 24h3v1h-3zM115 24h4v1h-4zM123 24h1v1h-1zM129 24h1v1h-1zM14 25h1v1h-1zM16 25h1v1h-1zM19 25h2v1h-2zM22 25h3v1h-3zM41 25h1v1h-1zM43 25h1v1h-1zM45 25h7v1h-7zM53 25h6v1h-6zM67 25h5v1h-5zM79 25h1v1h-1zM108 25h3v1h-3zM112 25h3v1h-3zM117 25h1v1h-1zM122 25h1v1h-1zM129 25h2v1h-2zM14 26h3v1h-3zM18 26h1v1h-1zM20 26h1v1h-1zM23 26h1v1h-1zM26 26h1v1h-1zM43 26h1v1h-1zM45 26h2v1h-2zM48 26h1v1h-1zM50 26h2v1h-2zM53 26h2v1h-2zM56 26h6v1h-6zM63 26h1v1h-1zM66 26h4v1h-4zM71 26h1v1h-1zM81 26h1v1h-1zM105 26h6v1h-6zM112 26h2v1h-2zM118 26h3v1h-3zM122 26h1v1h-1zM124 26h2v1h-2zM129 26h2v1h-2zM12 27h4v1h-4zM18 27h1v1h-1zM20 27h1v1h-1zM22 27h1v1h-1zM37 27h1v1h-1zM43 27h4v1h-4zM48 27h1v1h-1zM50 27h2v1h-2zM53 27h8v1h-8zM65 27h1v1h-1zM67 27h4v1h-4zM74 27h1v1h-1zM76 27h1v1h-1zM79 27h4v1h-4zM106 27h6v1h-6zM115 27h5v1h-5zM123 27h3v1h-3zM127 27h3v1h-3zM11 28h1v1h-1zM13 28h6v1h-6zM20 28h3v1h-3zM37 28h2v1h-2zM43 28h1v1h-1zM45 28h2v1h-2zM48 28h1v1h-1zM55 28h2v1h-2zM58 28h2v1h-2zM62 28h5v1h-5zM68 28h3v1h-3zM79 28h1v1h-1zM104 28h6v1h-6zM111 28h14v1h-14zM126 28h2v1h-2zM10 29h1v1h-1zM12 29h2v1h-2zM15 29h4v1h-4zM37 29h1v1h-1zM41 29h7v1h-7zM55 29h3v1h-3zM59 29h1v1h-1zM61 29h1v1h-1zM63 29h5v1h-5zM74 29h1v1h-1zM76 29h1v1h-1zM103 29h6v1h-6zM110 29h2v1h-2zM114 29h9v1h-9zM124 29h2v1h-2zM127 29h2v1h-2zM130 29h3v1h-3zM10 30h2v1h-2zM14 30h3v1h-3zM20 30h1v1h-1zM35 30h6v1h-6zM42 30h6v1h-6zM55 30h1v1h-1zM57 30h1v1h-1zM60 30h1v1h-1zM62 30h1v1h-1zM64 30h1v1h-1zM66 30h3v1h-3zM70 30h1v1h-1zM75 30h2v1h-2zM86 30h1v1h-1zM105 30h1v1h-1zM107 30h1v1h-1zM116 30h6v1h-6zM125 30h3v1h-3zM131 30h4v1h-4zM9 31h2v1h-2zM13 31h3v1h-3zM17 31h1v1h-1zM20 31h2v1h-2zM31 31h1v1h-1zM34 31h2v1h-2zM37 31h1v1h-1zM39 31h2v1h-2zM42 31h1v1h-1zM44 31h4v1h-4zM60 31h1v1h-1zM64 31h1v1h-1zM66 31h3v1h-3zM71 31h2v1h-2zM74 31h3v1h-3zM79 31h1v1h-1zM101 31h2v1h-2zM105 31h3v1h-3zM109 31h1v1h-1zM118 31h1v1h-1zM120 31h5v1h-5zM127 31h2v1h-2zM133 31h3v1h-3zM8 32h2v1h-2zM13 32h4v1h-4zM21 32h1v1h-1zM33 32h4v1h-4zM39 32h2v1h-2zM46 32h1v1h-1zM67 32h3v1h-3zM71 32h3v1h-3zM75 32h2v1h-2zM81 32h1v1h-1zM98 32h1v1h-1zM102 32h1v1h-1zM106 32h1v1h-1zM108 32h1v1h-1zM118 32h7v1h-7zM127 32h2v1h-2zM132 32h5v1h-5zM9 33h2v1h-2zM12 33h4v1h-4zM17 33h4v1h-4zM23 33h1v1h-1zM33 33h1v1h-1zM35 33h5v1h-5zM47 33h1v1h-1zM62 33h1v1h-1zM66 33h4v1h-4zM73 33h1v1h-1zM75 33h1v1h-1zM91 33h1v1h-1zM94 33h1v1h-1zM97 33h3v1h-3zM102 33h1v1h-1zM105 33h3v1h-3zM112 33h1v1h-1zM117 33h2v1h-2zM120 33h2v1h-2zM124 33h4v1h-4zM130 33h2v1h-2zM133 33h2v1h-2zM136 33h1v1h-1zM7 34h1v1h-1zM9 34h1v1h-1zM13 34h8v1h-8zM22 34h3v1h-3zM26 34h1v1h-1zM35 34h1v1h-1zM37 34h3v1h-3zM47 34h3v1h-3zM59 34h1v1h-1zM62 34h1v1h-1zM65 34h5v1h-5zM71 34h5v1h-5zM86 34h1v1h-1zM90 34h2v1h-2zM93 34h1v1h-1zM95 34h3v1h-3zM101 34h1v1h-1zM105 34h2v1h-2zM116 34h2v1h-2zM124 34h1v1h-1zM128 34h2v1h-2zM132 34h4v1h-4zM137 34h1v1h-1zM8 35h1v1h-1zM15 35h1v1h-1zM18 35h1v1h-1zM21 35h4v1h-4zM32 35h6v1h-6zM48 35h1v1h-1zM67 35h3v1h-3zM73 35h3v1h-3zM87 35h1v1h-1zM90 35h1v1h-1zM92 35h3v1h-3zM96 35h2v1h-2zM106 35h1v1h-1zM108 35h2v1h-2zM114 35h1v1h-1zM116 35h5v1h-5zM124 35h1v1h-1zM127 35h2v1h-2zM130 35h3v1h-3zM134 35h4v1h-4zM17 36h2v1h-2zM21 36h3v1h-3zM29 36h1v1h-1zM34 36h1v1h-1zM39 36h2v1h-2zM51 36h4v1h-4zM56 36h3v1h-3zM69 36h2v1h-2zM72 36h5v1h-5zM91 36h5v1h-5zM106 36h1v1h-1zM109 36h1v1h-1zM113 36h1v1h-1zM117 36h2v1h-2zM120 36h3v1h-3zM124 36h1v1h-1zM126 36h5v1h-5zM132 36h2v1h-2zM135 36h1v1h-1zM137 36h2v1h-2zM16 37h7v1h-7zM30 37h1v1h-1zM32 37h9v1h-9zM42 37h1v1h-1zM49 37h4v1h-4zM54 37h1v1h-1zM56 37h2v1h-2zM68 37h8v1h-8zM91 37h1v1h-1zM94 37h2v1h-2zM104 37h1v1h-1zM107 37h1v1h-1zM109 37h1v1h-1zM111 37h1v1h-1zM113 37h1v1h-1zM117 37h1v1h-1zM123 37h2v1h-2zM127 37h2v1h-2zM134 37h1v1h-1zM138 37h1v1h-1zM6 38h1v1h-1zM10 38h1v1h-1zM19 38h2v1h-2zM30 38h4v1h-4zM35 38h6v1h-6zM42 38h1v1h-1zM51 38h3v1h-3zM55 38h4v1h-4zM61 38h1v1h-1zM67 38h6v1h-6zM94 38h1v1h-1zM106 38h5v1h-5zM112 38h1v1h-1zM117 38h1v1h-1zM121 38h4v1h-4zM127 38h1v1h-1zM9 39h3v1h-3zM19 39h3v1h-3zM24 39h1v1h-1zM33 39h8v1h-8zM42 39h2v1h-2zM51 39h1v1h-1zM55 39h4v1h-4zM67 39h1v1h-1zM74 39h1v1h-1zM93 39h1v1h-1zM113 39h1v1h-1zM122 39h1v1h-1zM124 39h1v1h-1zM126 39h1v1h-1zM128 39h1v1h-1zM138 39h2v1h-2zM6 40h1v1h-1zM9 40h3v1h-3zM13 40h2v1h-2zM19 40h4v1h-4zM29 40h1v1h-1zM34 40h2v1h-2zM37 40h1v1h-1zM40 40h1v1h-1zM43 40h1v1h-1zM55 40h4v1h-4zM118 40h1v1h-1zM124 40h1v1h-1zM4 41h12v1h-12zM21 41h3v1h-3zM28 41h1v1h-1zM30 41h2v1h-2zM35 41h1v1h-1zM37 41h4v1h-4zM43 41h2v1h-2zM51 41h4v1h-4zM72 41h2v1h-2zM75 41h1v1h-1zM115 41h1v1h-1zM118 41h2v1h-2zM121 41h1v1h-1zM130 41h1v1h-1zM4 42h4v1h-4zM9 42h5v1h-5zM15 42h2v1h-2zM18 42h1v1h-1zM20 42h4v1h-4zM25 42h2v1h-2zM30 42h1v1h-1zM35 42h1v1h-1zM37 42h2v1h-2zM40 42h1v1h-1zM42 42h4v1h-4zM48 42h6v1h-6zM115 42h1v1h-1zM118 42h2v1h-2zM121 42h1v1h-1zM7 43h7v1h-7zM15 43h2v1h-2zM18 43h4v1h-4zM23 43h1v1h-1zM26 43h1v1h-1zM28 43h2v1h-2zM34 43h3v1h-3zM38 43h3v1h-3zM42 43h3v1h-3zM49 43h2v1h-2zM98 43h1v1h-1zM114 43h1v1h-1zM117 43h2v1h-2zM121 43h1v1h-1zM139 43h2v1h-2zM6 44h1v1h-1zM8 44h1v1h-1zM10 44h2v1h-2zM13 44h4v1h-4zM19 44h5v1h-5zM26 44h5v1h-5zM33 44h2v1h-2zM36 44h4v1h-4zM45 44h4v1h-4zM73 44h2v1h-2zM109 44h2v1h-2zM114 44h1v1h-1zM117 44h1v1h-1zM139 44h2v1h-2zM4 45h2v1h-2zM7 45h3v1h-3zM11 45h1v1h-1zM13 45h7v1h-7zM22 45h1v1h-1zM26 45h3v1h-3zM31 45h1v1h-1zM34 45h1v1h-1zM38 45h1v1h-1zM42 45h4v1h-4zM47 45h1v1h-1zM95 45h1v1h-1zM109 45h1v1h-1zM113 45h1v1h-1zM115 45h2v1h-2zM139 45h1v1h-1zM9 46h1v1h-1zM11 46h9v1h-9zM26 46h2v1h-2zM41 46h2v1h-2zM44 46h2v1h-2zM98 46h2v1h-2zM3 47h1v1h-1zM5 47h4v1h-4zM10 47h1v1h-1zM13 47h3v1h-3zM17 47h3v1h-3zM26 47h2v1h-2zM31 47h1v1h-1zM42 47h4v1h-4zM97 47h2v1h-2zM110 47h1v1h-1zM136 47h1v1h-1zM4 48h1v1h-1zM6 48h3v1h-3zM10 48h2v1h-2zM13 48h4v1h-4zM27 48h1v1h-1zM44 48h3v1h-3zM96 48h3v1h-3zM136 48h1v1h-1zM4 49h1v1h-1zM8 49h1v1h-1zM10 49h5v1h-5zM17 49h7v1h-7zM26 49h2v1h-2zM44 49h2v1h-2zM88 49h2v1h-2zM94 49h8v1h-8zM107 49h1v1h-1zM115 49h1v1h-1zM2 50h2v1h-2zM12 50h6v1h-6zM19 50h7v1h-7zM27 50h1v1h-1zM43 50h1v1h-1zM45 50h1v1h-1zM88 50h2v1h-2zM93 50h8v1h-8zM107 50h1v1h-1zM112 50h2v1h-2zM2 51h1v1h-1zM14 51h1v1h-1zM16 51h4v1h-4zM21 51h2v1h-2zM24 51h4v1h-4zM31 51h1v1h-1zM44 51h3v1h-3zM90 51h7v1h-7zM98 51h2v1h-2zM105 51h1v1h-1zM112 51h4v1h-4zM11 52h1v1h-1zM16 52h4v1h-4zM21 52h2v1h-2zM24 52h1v1h-1zM26 52h2v1h-2zM29 52h4v1h-4zM43 52h2v1h-2zM46 52h1v1h-1zM91 52h1v1h-1zM97 52h3v1h-3zM101 52h1v1h-1zM105 52h1v1h-1zM108 52h1v1h-1zM113 52h1v1h-1zM17 53h1v1h-1zM20 53h4v1h-4zM28 53h1v1h-1zM30 53h3v1h-3zM40 53h5v1h-5zM93 53h7v1h-7zM111 53h1v1h-1zM15 54h1v1h-1zM21 54h2v1h-2zM26 54h1v1h-1zM29 54h1v1h-1zM31 54h3v1h-3zM38 54h2v1h-2zM43 54h1v1h-1zM95 54h1v1h-1zM104 54h1v1h-1zM19 55h1v1h-1zM25 55h1v1h-1zM27 55h8v1h-8zM36 55h1v1h-1zM43 55h1v1h-1zM49 55h1v1h-1zM81 55h1v1h-1zM86 55h5v1h-5zM95 55h1v1h-1zM99 55h1v1h-1zM7 56h1v1h-1zM13 56h1v1h-1zM17 56h1v1h-1zM19 56h1v1h-1zM29 56h7v1h-7zM38 56h1v1h-1zM42 56h2v1h-2zM49 56h1v1h-1zM81 56h1v1h-1zM86 56h1v1h-1zM88 56h1v1h-1zM106 56h1v1h-1zM19 57h1v1h-1zM21 57h2v1h-2zM30 57h5v1h-5zM36 57h3v1h-3zM40 57h3v1h-3zM44 57h1v1h-1zM47 57h4v1h-4zM54 57h2v1h-2zM57 57h3v1h-3zM79 57h1v1h-1zM81 57h2v1h-2zM86 57h1v1h-1zM88 57h1v1h-1zM90 57h1v1h-1zM96 57h2v1h-2zM19 58h1v1h-1zM30 58h11v1h-11zM42 58h3v1h-3zM48 58h6v1h-6zM55 58h1v1h-1zM57 58h1v1h-1zM59 58h2v1h-2zM64 58h1v1h-1zM69 58h1v1h-1zM79 58h2v1h-2zM82 58h1v1h-1zM86 58h4v1h-4zM93 58h1v1h-1zM104 58h1v1h-1zM3 59h1v1h-1zM28 59h1v1h-1zM30 59h4v1h-4zM36 59h1v1h-1zM38 59h6v1h-6zM47 59h2v1h-2zM50 59h3v1h-3zM54 59h1v1h-1zM58 59h2v1h-2zM61 59h1v1h-1zM85 59h4v1h-4zM90 59h2v1h-2zM132 59h1v1h-1zM2 60h3v1h-3zM20 60h1v1h-1zM26 60h3v1h-3zM30 60h2v1h-2zM33 60h9v1h-9zM48 60h8v1h-8zM58 60h1v1h-1zM61 60h2v1h-2zM64 60h5v1h-5zM85 60h1v1h-1zM88 60h1v1h-1zM90 60h1v1h-1zM92 60h1v1h-1zM94 60h1v1h-1zM3 61h3v1h-3zM20 61h1v1h-1zM28 61h2v1h-2zM32 61h3v1h-3zM36 61h3v1h-3zM40 61h1v1h-1zM42 61h3v1h-3zM46 61h5v1h-5zM55 61h1v1h-1zM57 61h1v1h-1zM59 61h4v1h-4zM65 61h4v1h-4zM81 61h1v1h-1zM85 61h6v1h-6zM133 61h2v1h-2zM12 62h1v1h-1zM20 62h1v1h-1zM23 62h7v1h-7zM32 62h3v1h-3zM38 62h1v1h-1zM41 62h3v1h-3zM46 62h4v1h-4zM51 62h1v1h-1zM57 62h1v1h-1zM59 62h5v1h-5zM65 62h2v1h-2zM70 62h1v1h-1zM72 62h1v1h-1zM76 62h1v1h-1zM85 62h1v1h-1zM89 62h3v1h-3zM93 62h1v1h-1zM98 62h1v1h-1zM134 62h2v1h-2zM8 63h1v1h-1zM23 63h1v1h-1zM25 63h4v1h-4zM33 63h11v1h-11zM45 63h1v1h-1zM47 63h3v1h-3zM52 63h2v1h-2zM59 63h1v1h-1zM61 63h1v1h-1zM63 63h1v1h-1zM65 63h1v1h-1zM67 63h1v1h-1zM70 63h3v1h-3zM84 63h1v1h-1zM88 63h1v1h-1zM90 63h1v1h-1zM107 63h1v1h-1zM125 63h1v1h-1zM135 63h3v1h-3zM4 64h1v1h-1zM22 64h2v1h-2zM27 64h2v1h-2zM33 64h1v1h-1zM37 64h3v1h-3zM43 64h3v1h-3zM48 64h2v1h-2zM53 64h1v1h-1zM56 64h1v1h-1zM61 64h3v1h-3zM65 64h3v1h-3zM73 64h1v1h-1zM78 64h2v1h-2zM84 64h3v1h-3zM90 64h1v1h-1zM130 64h2v1h-2zM135 64h1v1h-1zM5 65h1v1h-1zM22 65h1v1h-1zM24 65h2v1h-2zM27 65h3v1h-3zM31 65h1v1h-1zM36 65h2v1h-2zM39 65h3v1h-3zM45 65h1v1h-1zM48 65h2v1h-2zM62 65h3v1h-3zM66 65h1v1h-1zM68 65h2v1h-2zM74 65h9v1h-9zM85 65h1v1h-1zM88 65h2v1h-2zM119 65h2v1h-2zM129 65h2v1h-2zM133 65h1v1h-1zM136 65h1v1h-1zM4 66h1v1h-1zM23 66h5v1h-5zM29 66h1v1h-1zM33 66h2v1h-2zM36 66h2v1h-2zM39 66h2v1h-2zM42 66h5v1h-5zM49 66h1v1h-1zM51 66h2v1h-2zM55 66h1v1h-1zM60 66h1v1h-1zM62 66h1v1h-1zM64 66h2v1h-2zM67 66h3v1h-3zM71 66h2v1h-2zM74 66h6v1h-6zM82 66h4v1h-4zM90 66h2v1h-2zM120 66h2v1h-2zM124 66h1v1h-1zM126 66h1v1h-1zM128 66h1v1h-1zM130 66h1v1h-1zM134 66h1v1h-1zM136 66h1v1h-1zM141 66h1v1h-1zM3 67h2v1h-2zM25 67h1v1h-1zM27 67h3v1h-3zM32 67h3v1h-3zM37 67h1v1h-1zM39 67h1v1h-1zM41 67h1v1h-1zM43 67h1v1h-1zM47 67h2v1h-2zM50 67h1v1h-1zM60 67h1v1h-1zM62 67h4v1h-4zM67 67h2v1h-2zM71 67h4v1h-4zM76 67h4v1h-4zM82 67h3v1h-3zM86 67h1v1h-1zM89 67h1v1h-1zM91 67h1v1h-1zM104 67h1v1h-1zM116 67h1v1h-1zM120 67h3v1h-3zM133 67h2v1h-2zM4 68h2v1h-2zM25 68h2v1h-2zM29 68h4v1h-4zM35 68h7v1h-7zM43 68h2v1h-2zM48 68h1v1h-1zM50 68h2v1h-2zM62 68h3v1h-3zM66 68h2v1h-2zM69 68h8v1h-8zM78 68h9v1h-9zM89 68h1v1h-1zM91 68h1v1h-1zM99 68h1v1h-1zM111 68h1v1h-1zM119 68h1v1h-1zM121 68h2v1h-2zM125 68h3v1h-3zM129 68h1v1h-1zM4 69h2v1h-2zM7 69h1v1h-1zM26 69h1v1h-1zM28 69h5v1h-5zM40 69h1v1h-1zM50 69h1v1h-1zM52 69h2v1h-2zM57 69h1v1h-1zM61 69h6v1h-6zM70 69h2v1h-2zM73 69h3v1h-3zM80 69h9v1h-9zM96 69h1v1h-1zM98 69h2v1h-2zM102 69h1v1h-1zM111 69h1v1h-1zM119 69h8v1h-8zM128 69h3v1h-3zM5 70h1v1h-1zM27 70h2v1h-2zM31 70h1v1h-1zM39 70h3v1h-3zM44 70h1v1h-1zM52 70h2v1h-2zM58 70h1v1h-1zM61 70h1v1h-1zM64 70h2v1h-2zM73 70h6v1h-6zM84 70h6v1h-6zM91 70h5v1h-5zM98 70h3v1h-3zM102 70h1v1h-1zM105 70h2v1h-2zM109 70h2v1h-2zM116 70h3v1h-3zM121 70h3v1h-3zM125 70h3v1h-3zM129 70h5v1h-5zM10 71h3v1h-3zM29 71h2v1h-2zM39 71h2v1h-2zM55 71h1v1h-1zM58 71h2v1h-2zM61 71h2v1h-2zM64 71h1v1h-1zM71 71h5v1h-5zM77 71h1v1h-1zM83 71h2v1h-2zM89 71h3v1h-3zM95 71h3v1h-3zM100 71h1v1h-1zM102 71h5v1h-5zM108 71h1v1h-1zM111 71h1v1h-1zM115 71h2v1h-2zM120 71h2v1h-2zM129 71h4v1h-4zM134 71h1v1h-1zM137 71h1v1h-1zM7 72h4v1h-4zM12 72h1v1h-1zM25 72h1v1h-1zM29 72h1v1h-1zM48 72h1v1h-1zM55 72h1v1h-1zM70 72h2v1h-2zM73 72h3v1h-3zM85 72h4v1h-4zM91 72h1v1h-1zM97 72h3v1h-3zM103 72h6v1h-6zM110 72h1v1h-1zM120 72h4v1h-4zM125 72h2v1h-2zM128 72h3v1h-3zM132 72h1v1h-1zM135 72h1v1h-1zM138 72h2v1h-2zM6 73h5v1h-5zM12 73h4v1h-4zM25 73h1v1h-1zM33 73h1v1h-1zM59 73h2v1h-2zM72 73h6v1h-6zM84 73h5v1h-5zM96 73h2v1h-2zM102 73h1v1h-1zM104 73h3v1h-3zM108 73h3v1h-3zM119 73h2v1h-2zM122 73h5v1h-5zM128 73h4v1h-4zM136 73h3v1h-3zM6 74h4v1h-4zM11 74h5v1h-5zM17 74h1v1h-1zM22 74h1v1h-1zM25 74h3v1h-3zM31 74h1v1h-1zM33 74h2v1h-2zM45 74h1v1h-1zM57 74h1v1h-1zM59 74h2v1h-2zM68 74h1v1h-1zM71 74h7v1h-7zM82 74h3v1h-3zM86 74h3v1h-3zM91 74h1v1h-1zM96 74h3v1h-3zM100 74h3v1h-3zM105 74h5v1h-5zM120 74h1v1h-1zM124 74h1v1h-1zM126 74h1v1h-1zM129 74h3v1h-3zM133 74h1v1h-1zM136 74h2v1h-2zM8 75h2v1h-2zM12 75h4v1h-4zM18 75h5v1h-5zM24 75h1v1h-1zM26 75h2v1h-2zM29 75h1v1h-1zM40 75h1v1h-1zM57 75h15v1h-15zM73 75h6v1h-6zM81 75h11v1h-11zM94 75h4v1h-4zM99 75h6v1h-6zM107 75h1v1h-1zM110 75h1v1h-1zM122 75h3v1h-3zM127 75h2v1h-2zM130 75h4v1h-4zM7 76h1v1h-1zM10 76h2v1h-2zM13 76h1v1h-1zM15 76h6v1h-6zM24 76h1v1h-1zM27 76h3v1h-3zM44 76h1v1h-1zM54 76h1v1h-1zM56 76h5v1h-5zM63 76h3v1h-3zM67 76h6v1h-6zM74 76h2v1h-2zM77 76h3v1h-3zM81 76h6v1h-6zM88 76h1v1h-1zM92 76h13v1h-13zM109 76h1v1h-1zM118 76h7v1h-7zM126 76h7v1h-7zM136 76h2v1h-2zM8 77h6v1h-6zM15 77h2v1h-2zM25 77h1v1h-1zM27 77h2v1h-2zM41 77h4v1h-4zM54 77h3v1h-3zM64 77h2v1h-2zM68 77h7v1h-7zM76 77h13v1h-13zM92 77h2v1h-2zM97 77h2v1h-2zM100 77h1v1h-1zM104 77h1v1h-1zM106 77h1v1h-1zM114 77h1v1h-1zM118 77h3v1h-3zM122 77h1v1h-1zM126 77h1v1h-1zM129 77h4v1h-4zM9 78h3v1h-3zM13 78h4v1h-4zM26 78h4v1h-4zM32 78h1v1h-1zM37 78h1v1h-1zM41 78h1v1h-1zM44 78h1v1h-1zM48 78h1v1h-1zM54 78h1v1h-1zM62 78h4v1h-4zM67 78h5v1h-5zM79 78h5v1h-5zM87 78h1v1h-1zM92 78h2v1h-2zM97 78h2v1h-2zM101 78h4v1h-4zM108 78h2v1h-2zM114 78h1v1h-1zM118 78h1v1h-1zM121 78h5v1h-5zM127 78h6v1h-6zM135 78h1v1h-1zM9 79h3v1h-3zM15 79h1v1h-1zM27 79h4v1h-4zM32 79h1v1h-1zM44 79h3v1h-3zM52 79h3v1h-3zM61 79h1v1h-1zM63 79h2v1h-2zM66 79h6v1h-6zM80 79h3v1h-3zM86 79h3v1h-3zM91 79h2v1h-2zM101 79h3v1h-3zM118 79h1v1h-1zM121 79h1v1h-1zM123 79h2v1h-2zM127 79h8v1h-8zM9 80h5v1h-5zM29 80h3v1h-3zM41 80h1v1h-1zM45 80h4v1h-4zM52 80h3v1h-3zM63 80h2v1h-2zM68 80h2v1h-2zM72 80h1v1h-1zM79 80h4v1h-4zM87 80h7v1h-7zM101 80h1v1h-1zM103 80h1v1h-1zM105 80h2v1h-2zM108 80h1v1h-1zM121 80h1v1h-1zM123 80h1v1h-1zM125 80h4v1h-4zM132 80h1v1h-1zM134 80h1v1h-1zM10 81h1v1h-1zM12 81h1v1h-1zM14 81h1v1h-1zM33 81h3v1h-3zM39 81h4v1h-4zM45 81h2v1h-2zM48 81h1v1h-1zM50 81h3v1h-3zM54 81h1v1h-1zM64 81h1v1h-1zM66 81h4v1h-4zM79 81h6v1h-6zM88 81h2v1h-2zM91 81h3v1h-3zM96 81h1v1h-1zM98 81h1v1h-1zM105 81h3v1h-3zM118 81h2v1h-2zM121 81h6v1h-6zM128 81h2v1h-2zM132 81h1v1h-1zM134 81h1v1h-1zM11 82h1v1h-1zM32 82h1v1h-1zM34 82h4v1h-4zM39 82h1v1h-1zM41 82h2v1h-2zM45 82h1v1h-1zM48 82h6v1h-6zM64 82h1v1h-1zM67 82h3v1h-3zM76 82h1v1h-1zM78 82h1v1h-1zM80 82h5v1h-5zM90 82h1v1h-1zM93 82h1v1h-1zM98 82h1v1h-1zM101 82h6v1h-6zM108 82h1v1h-1zM111 82h1v1h-1zM116 82h5v1h-5zM122 82h3v1h-3zM126 82h1v1h-1zM128 82h2v1h-2zM132 82h2v1h-2zM36 83h2v1h-2zM39 83h2v1h-2zM44 83h2v1h-2zM48 83h2v1h-2zM51 83h3v1h-3zM63 83h6v1h-6zM72 83h1v1h-1zM76 83h3v1h-3zM80 83h1v1h-1zM82 83h3v1h-3zM92 83h1v1h-1zM96 83h1v1h-1zM100 83h2v1h-2zM104 83h3v1h-3zM112 83h2v1h-2zM119 83h5v1h-5zM126 83h1v1h-1zM129 83h1v1h-1zM131 83h1v1h-1zM34 84h4v1h-4zM39 84h3v1h-3zM44 84h6v1h-6zM55 84h1v1h-1zM64 84h5v1h-5zM75 84h1v1h-1zM79 84h2v1h-2zM82 84h2v1h-2zM90 84h5v1h-5zM96 84h1v1h-1zM98 84h6v1h-6zM105 84h4v1h-4zM112 84h2v1h-2zM116 84h2v1h-2zM120 84h3v1h-3zM131 84h1v1h-1zM17 85h1v1h-1zM31 85h1v1h-1zM33 85h4v1h-4zM38 85h8v1h-8zM64 85h4v1h-4zM69 85h3v1h-3zM74 85h3v1h-3zM79 85h5v1h-5zM88 85h4v1h-4zM94 85h4v1h-4zM99 85h2v1h-2zM105 85h5v1h-5zM112 85h1v1h-1zM115 85h2v1h-2zM119 85h3v1h-3zM17 86h1v1h-1zM38 86h2v1h-2zM41 86h1v1h-1zM44 86h1v1h-1zM49 86h2v1h-2zM64 86h2v1h-2zM68 86h1v1h-1zM73 86h3v1h-3zM80 86h3v1h-3zM87 86h11v1h-11zM99 86h1v1h-1zM105 86h8v1h-8zM115 86h1v1h-1zM118 86h6v1h-6zM32 87h2v1h-2zM36 87h1v1h-1zM38 87h1v1h-1zM44 87h4v1h-4zM50 87h1v1h-1zM64 87h1v1h-1zM66 87h1v1h-1zM69 87h2v1h-2zM73 87h2v1h-2zM76 87h2v1h-2zM80 87h4v1h-4zM85 87h3v1h-3zM89 87h1v1h-1zM91 87h2v1h-2zM95 87h1v1h-1zM97 87h5v1h-5zM103 87h1v1h-1zM105 87h5v1h-5zM111 87h4v1h-4zM116 87h5v1h-5zM122 87h3v1h-3zM35 88h1v1h-1zM37 88h2v1h-2zM42 88h4v1h-4zM47 88h6v1h-6zM65 88h2v1h-2zM68 88h6v1h-6zM76 88h2v1h-2zM79 88h5v1h-5zM85 88h3v1h-3zM90 88h6v1h-6zM97 88h2v1h-2zM103 88h2v1h-2zM106 88h6v1h-6zM113 88h1v1h-1zM116 88h3v1h-3zM120 88h1v1h-1zM124 88h1v1h-1zM37 89h9v1h-9zM48 89h2v1h-2zM52 89h1v1h-1zM62 89h1v1h-1zM64 89h6v1h-6zM71 89h3v1h-3zM75 89h1v1h-1zM79 89h6v1h-6zM86 89h1v1h-1zM88 89h6v1h-6zM95 89h5v1h-5zM101 89h1v1h-1zM104 89h1v1h-1zM106 89h5v1h-5zM112 89h4v1h-4zM117 89h1v1h-1zM33 90h1v1h-1zM38 90h2v1h-2zM41 90h4v1h-4zM47 90h4v1h-4zM52 90h1v1h-1zM58 90h1v1h-1zM63 90h1v1h-1zM65 90h1v1h-1zM67 90h5v1h-5zM73 90h2v1h-2zM81 90h3v1h-3zM86 90h3v1h-3zM90 90h1v1h-1zM93 90h1v1h-1zM97 90h2v1h-2zM103 90h3v1h-3zM109 90h5v1h-5zM116 90h2v1h-2zM119 90h1v1h-1zM38 91h2v1h-2zM41 91h4v1h-4zM47 91h4v1h-4zM52 91h1v1h-1zM54 91h3v1h-3zM58 91h1v1h-1zM63 91h5v1h-5zM69 91h2v1h-2zM73 91h1v1h-1zM75 91h3v1h-3zM79 91h6v1h-6zM87 91h1v1h-1zM92 91h1v1h-1zM103 91h3v1h-3zM107 91h4v1h-4zM112 91h1v1h-1zM114 91h4v1h-4zM36 92h3v1h-3zM40 92h1v1h-1zM46 92h3v1h-3zM52 92h1v1h-1zM54 92h2v1h-2zM61 92h1v1h-1zM65 92h1v1h-1zM70 92h7v1h-7zM82 92h2v1h-2zM85 92h2v1h-2zM88 92h1v1h-1zM97 92h1v1h-1zM99 92h1v1h-1zM101 92h4v1h-4zM108 92h1v1h-1zM110 92h2v1h-2zM113 92h4v1h-4zM35 93h3v1h-3zM42 93h1v1h-1zM47 93h4v1h-4zM52 93h2v1h-2zM70 93h2v1h-2zM74 93h3v1h-3zM78 93h1v1h-1zM80 93h3v1h-3zM84 93h3v1h-3zM88 93h4v1h-4zM97 93h1v1h-1zM99 93h1v1h-1zM101 93h4v1h-4zM107 93h3v1h-3zM111 93h2v1h-2zM115 93h1v1h-1zM118 93h2v1h-2zM121 93h2v1h-2zM35 94h4v1h-4zM41 94h1v1h-1zM47 94h1v1h-1zM71 94h1v1h-1zM75 94h1v1h-1zM77 94h1v1h-1zM79 94h3v1h-3zM85 94h4v1h-4zM91 94h1v1h-1zM96 94h1v1h-1zM99 94h2v1h-2zM102 94h3v1h-3zM107 94h6v1h-6zM115 94h7v1h-7zM44 95h1v1h-1zM47 95h2v1h-2zM74 95h2v1h-2zM77 95h6v1h-6zM87 95h4v1h-4zM96 95h2v1h-2zM103 95h2v1h-2zM112 95h1v1h-1zM114 95h2v1h-2zM117 95h4v1h-4zM46 96h4v1h-4zM72 96h1v1h-1zM76 96h2v1h-2zM82 96h2v1h-2zM85 96h1v1h-1zM87 96h1v1h-1zM89 96h1v1h-1zM95 96h6v1h-6zM105 96h1v1h-1zM110 96h3v1h-3zM117 96h1v1h-1zM37 97h1v1h-1zM47 97h3v1h-3zM77 97h1v1h-1zM82 97h2v1h-2zM87 97h1v1h-1zM90 97h2v1h-2zM97 97h1v1h-1zM100 97h7v1h-7zM110 97h2v1h-2zM114 97h1v1h-1zM38 98h3v1h-3zM44 98h2v1h-2zM72 98h2v1h-2zM84 98h1v1h-1zM90 98h3v1h-3zM95 98h2v1h-2zM99 98h8v1h-8zM108 98h1v1h-1zM110 98h2v1h-2zM115 98h1v1h-1zM40 99h1v1h-1zM44 99h3v1h-3zM77 99h3v1h-3zM85 99h1v1h-1zM89 99h4v1h-4zM95 99h2v1h-2zM99 99h1v1h-1zM101 99h3v1h-3zM105 99h4v1h-4zM110 99h2v1h-2zM39 100h3v1h-3zM44 100h1v1h-1zM76 100h3v1h-3zM80 100h3v1h-3zM89 100h2v1h-2zM95 100h6v1h-6zM102 100h6v1h-6zM110 100h2v1h-2zM59 101h1v1h-1zM75 101h1v1h-1zM78 101h4v1h-4zM90 101h2v1h-2zM95 101h5v1h-5zM104 101h3v1h-3zM109 101h1v1h-1zM77 102h3v1h-3zM81 102h1v1h-1zM87 102h2v1h-2zM90 102h1v1h-1zM96 102h1v1h-1zM100 102h1v1h-1zM102 102h1v1h-1zM104 102h1v1h-1zM55 103h1v1h-1zM58 103h1v1h-1zM64 103h1v1h-1zM69 103h1v1h-1zM77 103h1v1h-1zM89 103h1v1h-1zM91 103h1v1h-1zM97 103h2v1h-2zM100 103h1v1h-1zM102 103h5v1h-5zM58 104h1v1h-1zM60 104h1v1h-1zM63 104h4v1h-4zM86 104h6v1h-6zM99 104h6v1h-6zM60 105h1v1h-1zM62 105h5v1h-5zM68 105h1v1h-1zM88 105h3v1h-3zM93 105h2v1h-2zM49 106h1v1h-1zM64 106h5v1h-5zM90 106h1v1h-1zM92 106h2v1h-2zM97 106h2v1h-2zM49 107h1v1h-1zM60 107h4v1h-4zM92 107h2v1h-2zM95 107h1v1h-1zM59 108h1v1h-1zM61 108h6v1h-6zM68 108h1v1h-1zM62 109h5v1h-5zM68 109h1v1h-1z"/>
<path fill="#cf9472" d="M61 1h6v1h-6zM68 1h2v1h-2zM55 2h5v1h-5zM61 2h3v1h-3zM68 2h3v1h-3zM55 3h4v1h-4zM61 3h1v1h-1zM66 3h2v1h-2zM70 3h1v1h-1zM72 3h1v1h-1zM57 4h6v1h-6zM64 4h2v1h-2zM67 4h1v1h-1zM74 4h1v1h-1zM44 5h4v1h-4zM52 5h3v1h-3zM56 5h1v1h-1zM58 5h4v1h-4zM63 5h3v1h-3zM69 5h2v1h-2zM41 6h2v1h-2zM44 6h2v1h-2zM47 6h2v1h-2zM52 6h6v1h-6zM59 6h13v1h-13zM94 6h2v1h-2zM101 6h3v1h-3zM40 7h3v1h-3zM44 7h1v1h-1zM47 7h2v1h-2zM51 7h2v1h-2zM55 7h1v1h-1zM58 7h3v1h-3zM63 7h1v1h-1zM66 7h2v1h-2zM94 7h2v1h-2zM101 7h2v1h-2zM36 8h3v1h-3zM40 8h2v1h-2zM43 8h2v1h-2zM46 8h1v1h-1zM52 8h3v1h-3zM58 8h2v1h-2zM63 8h2v1h-2zM88 8h1v1h-1zM90 8h2v1h-2zM93 8h4v1h-4zM102 8h2v1h-2zM105 8h4v1h-4zM34 9h1v1h-1zM36 9h2v1h-2zM48 9h1v1h-1zM50 9h9v1h-9zM60 9h7v1h-7zM88 9h1v1h-1zM90 9h2v1h-2zM104 9h4v1h-4zM109 9h2v1h-2zM33 10h2v1h-2zM46 10h1v1h-1zM48 10h1v1h-1zM51 10h6v1h-6zM58 10h1v1h-1zM61 10h2v1h-2zM64 10h2v1h-2zM77 10h1v1h-1zM88 10h5v1h-5zM94 10h1v1h-1zM107 10h1v1h-1zM109 10h1v1h-1zM111 10h1v1h-1zM47 11h1v1h-1zM51 11h1v1h-1zM53 11h5v1h-5zM61 11h4v1h-4zM81 11h1v1h-1zM88 11h2v1h-2zM107 11h4v1h-4zM47 12h1v1h-1zM54 12h4v1h-4zM59 12h1v1h-1zM61 12h4v1h-4zM66 12h1v1h-1zM109 12h3v1h-3zM37 13h1v1h-1zM46 13h1v1h-1zM51 13h1v1h-1zM53 13h4v1h-4zM63 13h1v1h-1zM66 13h1v1h-1zM110 13h2v1h-2zM113 13h1v1h-1zM116 13h2v1h-2zM36 14h1v1h-1zM46 14h1v1h-1zM48 14h2v1h-2zM54 14h1v1h-1zM58 14h3v1h-3zM62 14h3v1h-3zM66 14h1v1h-1zM74 14h1v1h-1zM111 14h2v1h-2zM114 14h1v1h-1zM116 14h1v1h-1zM36 15h1v1h-1zM38 15h1v1h-1zM43 15h2v1h-2zM46 15h3v1h-3zM50 15h4v1h-4zM56 15h5v1h-5zM62 15h2v1h-2zM74 15h1v1h-1zM45 16h4v1h-4zM51 16h1v1h-1zM61 16h1v1h-1zM65 16h1v1h-1zM33 17h2v1h-2zM43 17h2v1h-2zM48 17h3v1h-3zM67 17h2v1h-2zM70 17h1v1h-1zM109 17h1v1h-1zM43 18h3v1h-3zM47 18h4v1h-4zM66 18h5v1h-5zM72 18h1v1h-1zM118 18h1v1h-1zM48 19h3v1h-3zM67 19h4v1h-4zM72 19h1v1h-1zM75 19h1v1h-1zM20 20h1v1h-1zM46 20h2v1h-2zM66 20h1v1h-1zM68 20h6v1h-6zM34 21h1v1h-1zM37 21h1v1h-1zM45 21h2v1h-2zM48 21h1v1h-1zM66 21h7v1h-7zM75 21h1v1h-1zM29 22h1v1h-1zM114 22h1v1h-1zM16 23h3v1h-3zM45 23h1v1h-1zM51 23h1v1h-1zM14 24h3v1h-3zM18 24h1v1h-1zM13 25h1v1h-1zM15 25h1v1h-1zM17 25h2v1h-2zM52 25h1v1h-1zM63 25h1v1h-1zM13 26h1v1h-1zM47 26h1v1h-1zM49 26h1v1h-1zM52 26h1v1h-1zM55 26h1v1h-1zM111 26h1v1h-1zM47 27h1v1h-1zM66 27h1v1h-1zM47 28h1v1h-1zM110 28h1v1h-1zM14 29h1v1h-1zM62 29h1v1h-1zM109 29h1v1h-1zM112 29h2v1h-2zM12 30h2v1h-2zM41 30h1v1h-1zM106 30h1v1h-1zM109 30h4v1h-4zM114 30h2v1h-2zM11 31h2v1h-2zM36 31h1v1h-1zM38 31h1v1h-1zM41 31h1v1h-1zM110 31h2v1h-2zM114 31h1v1h-1zM116 31h2v1h-2zM119 31h1v1h-1zM10 32h3v1h-3zM37 32h1v1h-1zM41 32h5v1h-5zM74 32h1v1h-1zM109 32h4v1h-4zM116 32h2v1h-2zM8 33h1v1h-1zM11 33h1v1h-1zM16 33h1v1h-1zM40 33h7v1h-7zM70 33h3v1h-3zM74 33h1v1h-1zM108 33h2v1h-2zM111 33h1v1h-1zM113 33h1v1h-1zM116 33h1v1h-1zM119 33h1v1h-1zM122 33h2v1h-2zM8 34h1v1h-1zM10 34h3v1h-3zM36 34h1v1h-1zM40 34h1v1h-1zM44 34h3v1h-3zM70 34h1v1h-1zM94 34h1v1h-1zM107 34h6v1h-6zM114 34h2v1h-2zM118 34h6v1h-6zM125 34h3v1h-3zM130 34h2v1h-2zM136 34h1v1h-1zM7 35h1v1h-1zM9 35h1v1h-1zM12 35h1v1h-1zM16 35h2v1h-2zM38 35h4v1h-4zM43 35h5v1h-5zM70 35h3v1h-3zM107 35h1v1h-1zM110 35h4v1h-4zM115 35h1v1h-1zM121 35h3v1h-3zM125 35h2v1h-2zM129 35h1v1h-1zM6 36h5v1h-5zM16 36h1v1h-1zM35 36h4v1h-4zM41 36h3v1h-3zM45 36h1v1h-1zM47 36h1v1h-1zM71 36h1v1h-1zM107 36h2v1h-2zM110 36h3v1h-3zM114 36h2v1h-2zM119 36h1v1h-1zM123 36h1v1h-1zM125 36h1v1h-1zM134 36h1v1h-1zM6 37h2v1h-2zM14 37h2v1h-2zM41 37h1v1h-1zM43 37h6v1h-6zM108 37h1v1h-1zM110 37h1v1h-1zM112 37h1v1h-1zM118 37h4v1h-4zM125 37h2v1h-2zM5 38h1v1h-1zM7 38h3v1h-3zM11 38h1v1h-1zM17 38h2v1h-2zM34 38h1v1h-1zM41 38h1v1h-1zM43 38h8v1h-8zM54 38h1v1h-1zM125 38h2v1h-2zM6 39h3v1h-3zM12 39h4v1h-4zM17 39h1v1h-1zM41 39h1v1h-1zM44 39h7v1h-7zM52 39h3v1h-3zM125 39h1v1h-1zM5 40h1v1h-1zM15 40h4v1h-4zM36 40h1v1h-1zM38 40h2v1h-2zM44 40h4v1h-4zM50 40h5v1h-5zM16 41h5v1h-5zM36 41h1v1h-1zM45 41h6v1h-6zM14 42h1v1h-1zM17 42h1v1h-1zM19 42h1v1h-1zM36 42h1v1h-1zM39 42h1v1h-1zM46 42h2v1h-2zM4 43h3v1h-3zM17 43h1v1h-1zM22 43h1v1h-1zM45 43h3v1h-3zM3 44h3v1h-3zM7 44h1v1h-1zM9 44h1v1h-1zM17 44h2v1h-2zM3 45h1v1h-1zM6 45h1v1h-1zM3 46h4v1h-4zM43 46h1v1h-1zM4 47h1v1h-1zM9 47h1v1h-1zM11 47h2v1h-2zM2 48h2v1h-2zM9 48h1v1h-1zM12 48h1v1h-1zM2 49h2v1h-2zM5 49h2v1h-2zM9 49h1v1h-1zM4 50h2v1h-2zM8 50h4v1h-4zM18 50h1v1h-1zM3 51h4v1h-4zM9 51h1v1h-1zM11 51h3v1h-3zM15 51h1v1h-1zM20 51h1v1h-1zM23 51h1v1h-1zM43 51h1v1h-1zM3 52h1v1h-1zM6 52h1v1h-1zM9 52h2v1h-2zM12 52h4v1h-4zM20 52h1v1h-1zM23 52h1v1h-1zM7 53h1v1h-1zM9 53h2v1h-2zM12 53h5v1h-5zM18 53h2v1h-2zM24 53h4v1h-4zM29 53h1v1h-1zM6 54h4v1h-4zM12 54h1v1h-1zM14 54h1v1h-1zM16 54h5v1h-5zM23 54h1v1h-1zM25 54h1v1h-1zM27 54h2v1h-2zM30 54h1v1h-1zM2 55h1v1h-1zM7 55h3v1h-3zM13 55h6v1h-6zM20 55h5v1h-5zM26 55h1v1h-1zM2 56h1v1h-1zM4 56h1v1h-1zM6 56h1v1h-1zM8 56h3v1h-3zM12 56h1v1h-1zM14 56h2v1h-2zM18 56h1v1h-1zM20 56h5v1h-5zM27 56h2v1h-2zM2 57h5v1h-5zM13 57h3v1h-3zM17 57h2v1h-2zM20 57h1v1h-1zM23 57h2v1h-2zM27 57h3v1h-3zM35 57h1v1h-1zM89 57h1v1h-1zM2 58h5v1h-5zM8 58h1v1h-1zM12 58h1v1h-1zM16 58h3v1h-3zM20 58h3v1h-3zM25 58h1v1h-1zM27 58h3v1h-3zM58 58h1v1h-1zM90 58h1v1h-1zM2 59h1v1h-1zM4 59h5v1h-5zM10 59h3v1h-3zM16 59h1v1h-1zM19 59h2v1h-2zM23 59h5v1h-5zM29 59h1v1h-1zM37 59h1v1h-1zM44 59h1v1h-1zM60 59h1v1h-1zM64 59h1v1h-1zM5 60h1v1h-1zM7 60h7v1h-7zM16 60h4v1h-4zM21 60h5v1h-5zM29 60h1v1h-1zM32 60h1v1h-1zM42 60h2v1h-2zM46 60h2v1h-2zM59 60h2v1h-2zM2 61h1v1h-1zM6 61h4v1h-4zM11 61h2v1h-2zM19 61h1v1h-1zM21 61h7v1h-7zM39 61h1v1h-1zM51 61h4v1h-4zM2 62h10v1h-10zM13 62h1v1h-1zM19 62h1v1h-1zM21 62h2v1h-2zM39 62h1v1h-1zM44 62h1v1h-1zM50 62h1v1h-1zM52 62h5v1h-5zM58 62h1v1h-1zM5 63h3v1h-3zM9 63h3v1h-3zM14 63h1v1h-1zM17 63h6v1h-6zM44 63h1v1h-1zM50 63h2v1h-2zM54 63h1v1h-1zM58 63h1v1h-1zM60 63h1v1h-1zM62 63h1v1h-1zM3 64h1v1h-1zM5 64h2v1h-2zM10 64h2v1h-2zM13 64h2v1h-2zM17 64h5v1h-5zM50 64h3v1h-3zM54 64h2v1h-2zM57 64h4v1h-4zM3 65h1v1h-1zM6 65h1v1h-1zM11 65h1v1h-1zM17 65h1v1h-1zM19 65h3v1h-3zM50 65h4v1h-4zM55 65h7v1h-7zM65 65h1v1h-1zM3 66h1v1h-1zM5 66h1v1h-1zM17 66h1v1h-1zM19 66h1v1h-1zM22 66h1v1h-1zM35 66h1v1h-1zM41 66h1v1h-1zM47 66h2v1h-2zM53 66h2v1h-2zM56 66h1v1h-1zM58 66h2v1h-2zM61 66h1v1h-1zM70 66h1v1h-1zM80 66h2v1h-2zM5 67h1v1h-1zM14 67h2v1h-2zM19 67h1v1h-1zM22 67h3v1h-3zM26 67h1v1h-1zM35 67h2v1h-2zM40 67h1v1h-1zM42 67h1v1h-1zM44 67h3v1h-3zM49 67h1v1h-1zM52 67h4v1h-4zM57 67h3v1h-3zM61 67h1v1h-1zM69 67h2v1h-2zM81 67h1v1h-1zM6 68h3v1h-3zM14 68h1v1h-1zM19 68h1v1h-1zM22 68h1v1h-1zM24 68h1v1h-1zM33 68h2v1h-2zM42 68h1v1h-1zM45 68h1v1h-1zM47 68h1v1h-1zM49 68h1v1h-1zM52 68h10v1h-10zM68 68h1v1h-1zM77 68h1v1h-1zM6 69h1v1h-1zM8 69h1v1h-1zM25 69h1v1h-1zM33 69h7v1h-7zM41 69h4v1h-4zM47 69h3v1h-3zM51 69h1v1h-1zM54 69h3v1h-3zM58 69h3v1h-3zM67 69h3v1h-3zM72 69h1v1h-1zM76 69h4v1h-4zM4 70h1v1h-1zM6 70h3v1h-3zM10 70h2v1h-2zM13 70h1v1h-1zM15 70h2v1h-2zM18 70h2v1h-2zM21 70h1v1h-1zM25 70h2v1h-2zM29 70h2v1h-2zM32 70h7v1h-7zM42 70h2v1h-2zM45 70h6v1h-6zM54 70h1v1h-1zM56 70h2v1h-2zM59 70h2v1h-2zM62 70h2v1h-2zM66 70h2v1h-2zM69 70h4v1h-4zM79 70h4v1h-4zM96 70h1v1h-1zM5 71h5v1h-5zM13 71h5v1h-5zM20 71h1v1h-1zM24 71h5v1h-5zM31 71h5v1h-5zM37 71h2v1h-2zM43 71h8v1h-8zM52 71h3v1h-3zM56 71h2v1h-2zM60 71h1v1h-1zM63 71h1v1h-1zM65 71h1v1h-1zM69 71h2v1h-2zM78 71h5v1h-5zM85 71h4v1h-4zM92 71h3v1h-3zM98 71h2v1h-2zM122 71h7v1h-7zM5 72h2v1h-2zM11 72h1v1h-1zM13 72h5v1h-5zM22 72h3v1h-3zM26 72h3v1h-3zM30 72h11v1h-11zM43 72h5v1h-5zM49 72h2v1h-2zM52 72h2v1h-2zM56 72h9v1h-9zM69 72h1v1h-1zM72 72h1v1h-1zM77 72h8v1h-8zM89 72h2v1h-2zM93 72h4v1h-4zM124 72h1v1h-1zM127 72h1v1h-1zM11 73h1v1h-1zM16 73h3v1h-3zM21 73h4v1h-4zM26 73h7v1h-7zM34 73h7v1h-7zM44 73h4v1h-4zM50 73h1v1h-1zM52 73h1v1h-1zM55 73h4v1h-4zM61 73h2v1h-2zM66 73h6v1h-6zM78 73h6v1h-6zM89 73h3v1h-3zM93 73h3v1h-3zM103 73h1v1h-1zM107 73h1v1h-1zM127 73h1v1h-1zM16 74h1v1h-1zM18 74h2v1h-2zM21 74h1v1h-1zM23 74h2v1h-2zM28 74h3v1h-3zM32 74h1v1h-1zM35 74h2v1h-2zM39 74h4v1h-4zM44 74h1v1h-1zM46 74h2v1h-2zM51 74h1v1h-1zM54 74h3v1h-3zM58 74h1v1h-1zM61 74h4v1h-4zM66 74h2v1h-2zM69 74h2v1h-2zM78 74h4v1h-4zM85 74h1v1h-1zM89 74h2v1h-2zM92 74h4v1h-4zM103 74h2v1h-2zM125 74h1v1h-1zM127 74h2v1h-2zM16 75h2v1h-2zM23 75h1v1h-1zM28 75h1v1h-1zM30 75h8v1h-8zM39 75h1v1h-1zM41 75h3v1h-3zM47 75h5v1h-5zM54 75h3v1h-3zM72 75h1v1h-1zM79 75h2v1h-2zM105 75h2v1h-2zM125 75h2v1h-2zM129 75h1v1h-1zM30 76h7v1h-7zM39 76h5v1h-5zM45 76h1v1h-1zM49 76h2v1h-2zM53 76h1v1h-1zM55 76h1v1h-1zM66 76h1v1h-1zM76 76h1v1h-1zM80 76h1v1h-1zM87 76h1v1h-1zM105 76h2v1h-2zM125 76h1v1h-1zM29 77h6v1h-6zM37 77h4v1h-4zM45 77h6v1h-6zM53 77h1v1h-1zM63 77h1v1h-1zM66 77h2v1h-2zM101 77h3v1h-3zM105 77h1v1h-1zM127 77h2v1h-2zM12 78h1v1h-1zM30 78h2v1h-2zM33 78h1v1h-1zM36 78h1v1h-1zM38 78h3v1h-3zM42 78h2v1h-2zM45 78h3v1h-3zM49 78h1v1h-1zM51 78h3v1h-3zM66 78h1v1h-1zM84 78h2v1h-2zM119 78h2v1h-2zM126 78h1v1h-1zM12 79h2v1h-2zM31 79h1v1h-1zM33 79h2v1h-2zM38 79h4v1h-4zM43 79h1v1h-1zM47 79h2v1h-2zM50 79h2v1h-2zM65 79h1v1h-1zM83 79h3v1h-3zM119 79h2v1h-2zM122 79h1v1h-1zM125 79h2v1h-2zM32 80h3v1h-3zM36 80h1v1h-1zM38 80h3v1h-3zM42 80h3v1h-3zM49 80h3v1h-3zM65 80h3v1h-3zM83 80h4v1h-4zM102 80h1v1h-1zM119 80h2v1h-2zM122 80h1v1h-1zM36 81h3v1h-3zM43 81h2v1h-2zM49 81h1v1h-1zM53 81h1v1h-1zM65 81h1v1h-1zM85 81h3v1h-3zM102 81h1v1h-1zM120 81h1v1h-1zM44 82h1v1h-1zM65 82h1v1h-1zM85 82h5v1h-5zM91 82h2v1h-2zM107 82h1v1h-1zM85 83h4v1h-4zM90 83h2v1h-2zM102 83h2v1h-2zM107 83h1v1h-1zM84 84h2v1h-2zM87 84h3v1h-3zM104 84h1v1h-1zM37 85h1v1h-1zM68 85h1v1h-1zM84 85h4v1h-4zM92 85h2v1h-2zM101 85h4v1h-4zM122 85h2v1h-2zM37 86h1v1h-1zM66 86h2v1h-2zM83 86h4v1h-4zM100 86h5v1h-5zM37 87h1v1h-1zM65 87h1v1h-1zM67 87h1v1h-1zM75 87h1v1h-1zM84 87h1v1h-1zM102 87h1v1h-1zM104 87h1v1h-1zM39 88h1v1h-1zM46 88h1v1h-1zM67 88h1v1h-1zM75 88h1v1h-1zM84 88h1v1h-1zM88 88h2v1h-2zM96 88h1v1h-1zM99 88h4v1h-4zM105 88h1v1h-1zM46 89h2v1h-2zM85 89h1v1h-1zM87 89h1v1h-1zM94 89h1v1h-1zM100 89h1v1h-1zM102 89h2v1h-2zM40 90h1v1h-1zM45 90h2v1h-2zM64 90h1v1h-1zM84 90h2v1h-2zM89 90h1v1h-1zM91 90h2v1h-2zM94 90h3v1h-3zM99 90h4v1h-4zM114 90h2v1h-2zM40 91h1v1h-1zM45 91h2v1h-2zM85 91h2v1h-2zM88 91h1v1h-1zM93 91h6v1h-6zM100 91h3v1h-3zM113 91h1v1h-1zM39 92h1v1h-1zM41 92h5v1h-5zM84 92h1v1h-1zM89 92h8v1h-8zM98 92h1v1h-1zM112 92h1v1h-1zM39 93h3v1h-3zM43 93h4v1h-4zM79 93h1v1h-1zM83 93h1v1h-1zM92 93h3v1h-3zM96 93h1v1h-1zM98 93h1v1h-1zM113 93h2v1h-2zM116 93h1v1h-1zM39 94h2v1h-2zM42 94h2v1h-2zM45 94h2v1h-2zM48 94h2v1h-2zM89 94h2v1h-2zM92 94h1v1h-1zM94 94h2v1h-2zM97 94h2v1h-2zM113 94h2v1h-2zM38 95h1v1h-1zM40 95h2v1h-2zM45 95h2v1h-2zM91 95h2v1h-2zM95 95h1v1h-1zM98 95h1v1h-1zM113 95h1v1h-1zM38 96h1v1h-1zM40 96h3v1h-3zM45 96h1v1h-1zM94 96h1v1h-1zM38 97h9v1h-9zM92 97h5v1h-5zM98 97h2v1h-2zM41 98h3v1h-3zM46 98h1v1h-1zM85 98h1v1h-1zM93 98h2v1h-2zM97 98h2v1h-2zM39 99h1v1h-1zM41 99h3v1h-3zM93 99h2v1h-2zM97 99h2v1h-2zM104 99h1v1h-1zM91 100h4v1h-4zM92 101h1v1h-1zM94 101h1v1h-1zM100 101h4v1h-4zM91 102h1v1h-1zM94 102h2v1h-2zM97 102h3v1h-3zM103 102h1v1h-1zM105 102h1v1h-1zM88 103h1v1h-1zM90 103h1v1h-1zM92 103h5v1h-5zM99 103h1v1h-1zM92 104h7v1h-7zM67 105h1v1h-1zM92 105h1v1h-1zM95 105h7v1h-7zM95 106h2v1h-2zM64 107h1v1h-1z"/>
<path fill="#b9693c" d="M67 1h1v1h-1zM64 2h4v1h-4zM51 3h1v1h-1zM53 3h2v1h-2zM62 3h4v1h-4zM47 4h5v1h-5zM53 4h4v1h-4zM63 4h1v1h-1zM48 5h2v1h-2zM51 5h1v1h-1zM55 5h1v1h-1zM57 5h1v1h-1zM62 5h1v1h-1zM43 6h1v1h-1zM49 6h3v1h-3zM43 7h1v1h-1zM49 7h2v1h-2zM56 7h2v1h-2zM61 7h2v1h-2zM48 8h2v1h-2zM51 8h1v1h-1zM55 8h3v1h-3zM62 8h1v1h-1zM49 9h1v1h-1zM59 9h1v1h-1zM57 10h1v1h-1zM59 10h2v1h-2zM63 10h1v1h-1zM110 10h1v1h-1zM112 10h1v1h-1zM46 11h1v1h-1zM58 11h3v1h-3zM111 11h1v1h-1zM60 12h1v1h-1zM112 12h1v1h-1zM114 12h2v1h-2zM59 13h4v1h-4zM112 13h1v1h-1zM114 13h2v1h-2zM115 14h1v1h-1zM49 15h1v1h-1zM49 16h2v1h-2zM69 17h1v1h-1zM67 20h1v1h-1zM113 30h1v1h-1zM112 31h2v1h-2zM115 31h1v1h-1zM38 32h1v1h-1zM113 32h3v1h-3zM110 33h1v1h-1zM114 33h1v1h-1zM41 34h3v1h-3zM113 34h1v1h-1zM10 35h2v1h-2zM13 35h2v1h-2zM42 35h1v1h-1zM11 36h2v1h-2zM14 36h2v1h-2zM44 36h1v1h-1zM46 36h1v1h-1zM8 37h6v1h-6zM12 38h5v1h-5zM5 39h1v1h-1zM16 39h1v1h-1zM18 39h1v1h-1zM48 40h2v1h-2zM7 49h1v1h-1zM6 50h2v1h-2zM7 51h2v1h-2zM10 51h1v1h-1zM2 52h1v1h-1zM4 52h2v1h-2zM7 52h2v1h-2zM2 53h5v1h-5zM8 53h1v1h-1zM11 53h1v1h-1zM2 54h2v1h-2zM5 54h1v1h-1zM10 54h2v1h-2zM13 54h1v1h-1zM24 54h1v1h-1zM3 55h1v1h-1zM6 55h1v1h-1zM10 55h3v1h-3zM3 56h1v1h-1zM5 56h1v1h-1zM11 56h1v1h-1zM16 56h1v1h-1zM25 56h2v1h-2zM7 57h6v1h-6zM16 57h1v1h-1zM25 57h2v1h-2zM7 58h1v1h-1zM9 58h3v1h-3zM13 58h3v1h-3zM23 58h2v1h-2zM26 58h1v1h-1zM9 59h1v1h-1zM13 59h3v1h-3zM17 59h2v1h-2zM21 59h2v1h-2zM6 60h1v1h-1zM14 60h2v1h-2zM10 61h1v1h-1zM13 61h2v1h-2zM16 61h3v1h-3zM14 62h5v1h-5zM3 63h2v1h-2zM12 63h2v1h-2zM15 63h2v1h-2zM55 63h3v1h-3zM7 64h3v1h-3zM12 64h1v1h-1zM16 64h1v1h-1zM7 65h4v1h-4zM12 65h3v1h-3zM16 65h1v1h-1zM18 65h1v1h-1zM54 65h1v1h-1zM6 66h6v1h-6zM13 66h1v1h-1zM15 66h2v1h-2zM18 66h1v1h-1zM20 66h2v1h-2zM57 66h1v1h-1zM6 67h1v1h-1zM8 67h2v1h-2zM13 67h1v1h-1zM16 67h3v1h-3zM20 67h2v1h-2zM56 67h1v1h-1zM9 68h1v1h-1zM12 68h2v1h-2zM15 68h1v1h-1zM18 68h1v1h-1zM20 68h2v1h-2zM23 68h1v1h-1zM46 68h1v1h-1zM9 69h1v1h-1zM11 69h1v1h-1zM13 69h2v1h-2zM18 69h7v1h-7zM45 69h2v1h-2zM9 70h1v1h-1zM12 70h1v1h-1zM14 70h1v1h-1zM17 70h1v1h-1zM20 70h1v1h-1zM22 70h3v1h-3zM51 70h1v1h-1zM55 70h1v1h-1zM68 70h1v1h-1zM18 71h2v1h-2zM21 71h3v1h-3zM36 71h1v1h-1zM41 71h2v1h-2zM51 71h1v1h-1zM66 71h3v1h-3zM18 72h3v1h-3zM41 72h2v1h-2zM51 72h1v1h-1zM54 72h1v1h-1zM65 72h4v1h-4zM92 72h1v1h-1zM19 73h2v1h-2zM41 73h3v1h-3zM48 73h2v1h-2zM51 73h1v1h-1zM53 73h2v1h-2zM63 73h3v1h-3zM92 73h1v1h-1zM20 74h1v1h-1zM37 74h2v1h-2zM43 74h1v1h-1zM48 74h3v1h-3zM52 74h2v1h-2zM65 74h1v1h-1zM38 75h1v1h-1zM44 75h3v1h-3zM52 75h2v1h-2zM37 76h2v1h-2zM46 76h3v1h-3zM51 76h2v1h-2zM35 77h2v1h-2zM51 77h2v1h-2zM34 78h2v1h-2zM50 78h1v1h-1zM35 79h3v1h-3zM42 79h1v1h-1zM49 79h1v1h-1zM35 80h1v1h-1zM37 80h1v1h-1zM89 83h1v1h-1zM86 84h1v1h-1zM89 91h3v1h-3zM99 91h1v1h-1zM95 93h1v1h-1zM44 94h1v1h-1zM93 94h1v1h-1zM39 95h1v1h-1zM42 95h2v1h-2zM93 95h2v1h-2zM39 96h1v1h-1zM43 96h2v1h-2zM92 96h2v1h-2zM93 101h1v1h-1zM92 102h2v1h-2z"/>
<path fill="#8f2e12" d="M52 3h1v1h-1zM52 4h1v1h-1zM50 5h1v1h-1zM50 8h1v1h-1zM112 11h2v1h-2zM113 12h1v1h-1zM115 33h1v1h-1zM13 36h1v1h-1zM4 54h1v1h-1zM4 55h2v1h-2zM15 61h1v1h-1zM15 64h1v1h-1zM15 65h1v1h-1zM12 66h1v1h-1zM14 66h1v1h-1zM7 67h1v1h-1zM10 67h3v1h-3zM10 68h2v1h-2zM16 68h2v1h-2zM10 69h1v1h-1zM12 69h1v1h-1zM15 69h3v1h-3zM21 72h1v1h-1z"/>
</g>
<path d="M1484.20 430.19A119.07 119.19 0 0 0 1484.21 191.81A119.07 119.19 0 0 0 1484.18 430.19" fill="none" stroke="#000" stroke-width="4.2"/>
<path d="M1484.20 370.60A59.54 59.60 0 0 0 1484.21 251.40A59.54 59.60 0 0 0 1484.19 370.60" fill="none" stroke="#000" stroke-width="4.5" stroke-dasharray="15.2 6.58" stroke-dashoffset="0"/>
<path d="M1484.20 132.21A178.61 178.79 0 0 0 1305.60 311.00A178.61 178.79 0 0 0 1484.20 489.79" fill="none" stroke="#1a00ff" stroke-width="4.5" stroke-dasharray="15.2 6.58" stroke-dashoffset="0"/>
<path d="M1484.20 132.21A178.61 178.79 0 0 1 1662.81 311.00A178.61 178.79 0 0 1 1484.20 489.79" fill="none" stroke="#378f1b" stroke-width="4.5" stroke-dasharray="15.2 6.58" stroke-dashoffset="0"/>
<path d="M1484.20 72.61A238.14 238.39 0 0 0 1246.06 311.00A238.14 238.39 0 0 0 1484.20 549.38" fill="none" stroke="#ff2a12" stroke-width="4.5" stroke-dasharray="15.2 6.58" stroke-dashoffset="0"/>
<path d="M1474.20 301.00L1494.20 321.00M1474.20 321.00L1494.20 301.00" stroke="#000" stroke-width="4.1" fill="none"/>
<line x1="1484.20" y1="602.00" x2="1484.20" y2="18.80" stroke="#7f7f7f" stroke-width="4.0" stroke-dasharray="15.15 6.58"/>
</g>
<text x="1198.50" y="49.50" font-size="32.0" text-anchor="start" fill="#000" color="#000" font-weight="bold">(b)</text>
<text x="1192.50" y="587.00" font-size="32.4" text-anchor="start" fill="#000" color="#000">Upwind</text>
<text x="1776.00" y="587.00" font-size="32.7" text-anchor="end" fill="#000" color="#000">Downwind</text>
<rect x="1186.6" y="18.8" width="596.0" height="583.2" fill="none" stroke="#000" stroke-width="3.3"/>
<line x1="1192.60" y1="602.00" x2="1192.60" y2="616.20" stroke="#000" stroke-width="3.2"/>
<text x="1192.60" y="653.80" font-size="28.8" text-anchor="middle" fill="#000" color="#000">-60</text>
<line x1="1289.80" y1="602.00" x2="1289.80" y2="616.20" stroke="#000" stroke-width="3.2"/>
<text x="1289.80" y="653.80" font-size="28.8" text-anchor="middle" fill="#000" color="#000">-40</text>
<line x1="1172.40" y1="505.60" x2="1186.60" y2="505.60" stroke="#000" stroke-width="3.2"/>
<text x="1157.00" y="516.70" font-size="28.8" text-anchor="end" fill="#000" color="#000">-40</text>
<line x1="1387.00" y1="602.00" x2="1387.00" y2="616.20" stroke="#000" stroke-width="3.2"/>
<text x="1387.00" y="653.80" font-size="28.8" text-anchor="middle" fill="#000" color="#000">-20</text>
<line x1="1172.40" y1="408.30" x2="1186.60" y2="408.30" stroke="#000" stroke-width="3.2"/>
<text x="1157.00" y="419.40" font-size="28.8" text-anchor="end" fill="#000" color="#000">-20</text>
<line x1="1484.20" y1="602.00" x2="1484.20" y2="616.20" stroke="#000" stroke-width="3.2"/>
<text x="1484.20" y="653.80" font-size="28.8" text-anchor="middle" fill="#000" color="#000">0</text>
<line x1="1172.40" y1="311.00" x2="1186.60" y2="311.00" stroke="#000" stroke-width="3.2"/>
<text x="1157.00" y="322.10" font-size="28.8" text-anchor="end" fill="#000" color="#000">0</text>
<line x1="1581.40" y1="602.00" x2="1581.40" y2="616.20" stroke="#000" stroke-width="3.2"/>
<text x="1581.40" y="653.80" font-size="28.8" text-anchor="middle" fill="#000" color="#000">20</text>
<line x1="1172.40" y1="213.70" x2="1186.60" y2="213.70" stroke="#000" stroke-width="3.2"/>
<text x="1157.00" y="224.80" font-size="28.8" text-anchor="end" fill="#000" color="#000">20</text>
<line x1="1678.60" y1="602.00" x2="1678.60" y2="616.20" stroke="#000" stroke-width="3.2"/>
<text x="1678.60" y="653.80" font-size="28.8" text-anchor="middle" fill="#000" color="#000">40</text>
<line x1="1172.40" y1="116.40" x2="1186.60" y2="116.40" stroke="#000" stroke-width="3.2"/>
<text x="1157.00" y="127.50" font-size="28.8" text-anchor="end" fill="#000" color="#000">40</text>
<line x1="1775.80" y1="602.00" x2="1775.80" y2="616.20" stroke="#000" stroke-width="3.2"/>
<text x="1775.80" y="653.80" font-size="28.8" text-anchor="middle" fill="#000" color="#000">60</text>
<line x1="1172.40" y1="19.10" x2="1186.60" y2="19.10" stroke="#000" stroke-width="3.2"/>
<text x="1157.00" y="30.20" font-size="28.8" text-anchor="end" fill="#000" color="#000">60</text>
<text x="1484.00" y="701.50" font-size="32.8" text-anchor="middle" fill="#000" color="#000">Distance from urban center [km]</text>
<text x="1086.10" y="311.20" font-size="32.8" text-anchor="middle" fill="#000" color="#000" transform="rotate(-90 1086.10 311.20)">Distance from urban center [km]</text>
<rect x="1820.5" y="41.70" width="25.5" height="54.26" fill="#5e0a0d"/>
<rect x="1820.5" y="95.36" width="25.5" height="54.26" fill="#8f2e12"/>
<rect x="1820.5" y="149.02" width="25.5" height="54.26" fill="#b9693c"/>
<rect x="1820.5" y="202.68" width="25.5" height="54.26" fill="#cf9472"/>
<rect x="1820.5" y="256.34" width="25.5" height="54.26" fill="#e6cfc0"/>
<rect x="1820.5" y="310.00" width="25.5" height="54.26" fill="#cde0e8"/>
<rect x="1820.5" y="363.66" width="25.5" height="54.26" fill="#7aafc8"/>
<rect x="1820.5" y="417.32" width="25.5" height="54.26" fill="#4179a3"/>
<rect x="1820.5" y="470.98" width="25.5" height="54.26" fill="#22427f"/>
<rect x="1820.5" y="524.64" width="25.5" height="54.26" fill="#0f1260"/>
<rect x="1820.5" y="42.0" width="25.5" height="536.6" fill="none" stroke="#000" stroke-width="3.3"/>
<line x1="1846.00" y1="42.00" x2="1860.80" y2="42.00" stroke="#000" stroke-width="3.2"/>
<text x="1875.00" y="53.40" font-size="28.8" text-anchor="start" fill="#000" color="#000">2.0</text>
<line x1="1846.00" y1="95.66" x2="1860.80" y2="95.66" stroke="#000" stroke-width="3.2"/>
<text x="1875.00" y="107.06" font-size="28.8" text-anchor="start" fill="#000" color="#000">1.6</text>
<line x1="1846.00" y1="149.32" x2="1860.80" y2="149.32" stroke="#000" stroke-width="3.2"/>
<text x="1875.00" y="160.72" font-size="28.8" text-anchor="start" fill="#000" color="#000">1.2</text>
<line x1="1846.00" y1="202.98" x2="1860.80" y2="202.98" stroke="#000" stroke-width="3.2"/>
<text x="1875.00" y="214.38" font-size="28.8" text-anchor="start" fill="#000" color="#000">0.8</text>
<line x1="1846.00" y1="256.64" x2="1860.80" y2="256.64" stroke="#000" stroke-width="3.2"/>
<text x="1875.00" y="268.04" font-size="28.8" text-anchor="start" fill="#000" color="#000">0.4</text>
<line x1="1846.00" y1="310.30" x2="1860.80" y2="310.30" stroke="#000" stroke-width="3.2"/>
<text x="1875.00" y="321.70" font-size="28.8" text-anchor="start" fill="#000" color="#000">0.0</text>
<line x1="1846.00" y1="363.96" x2="1860.80" y2="363.96" stroke="#000" stroke-width="3.2"/>
<text x="1875.00" y="375.36" font-size="28.8" text-anchor="start" fill="#000" color="#000">−0.4</text>
<line x1="1846.00" y1="417.62" x2="1860.80" y2="417.62" stroke="#000" stroke-width="3.2"/>
<text x="1875.00" y="429.02" font-size="28.8" text-anchor="start" fill="#000" color="#000">−0.8</text>
<line x1="1846.00" y1="471.28" x2="1860.80" y2="471.28" stroke="#000" stroke-width="3.2"/>
<text x="1875.00" y="482.68" font-size="28.8" text-anchor="start" fill="#000" color="#000">−1.2</text>
<line x1="1846.00" y1="524.94" x2="1860.80" y2="524.94" stroke="#000" stroke-width="3.2"/>
<text x="1875.00" y="536.34" font-size="28.8" text-anchor="start" fill="#000" color="#000">−1.6</text>
<line x1="1846.00" y1="578.60" x2="1860.80" y2="578.60" stroke="#000" stroke-width="3.2"/>
<text x="1875.00" y="590.00" font-size="28.8" text-anchor="start" fill="#000" color="#000">−2.0</text>
<text x="1990.5" y="310.5" font-size="32.8" text-anchor="middle" fill="#000" transform="rotate(-90 1990.5 310.5)">Deviation from mean speed [m s<tspan dy="-13" font-size="22.96">−1</tspan><tspan dy="13">]</tspan></text>
</g>
</svg>
</body>
</html>
